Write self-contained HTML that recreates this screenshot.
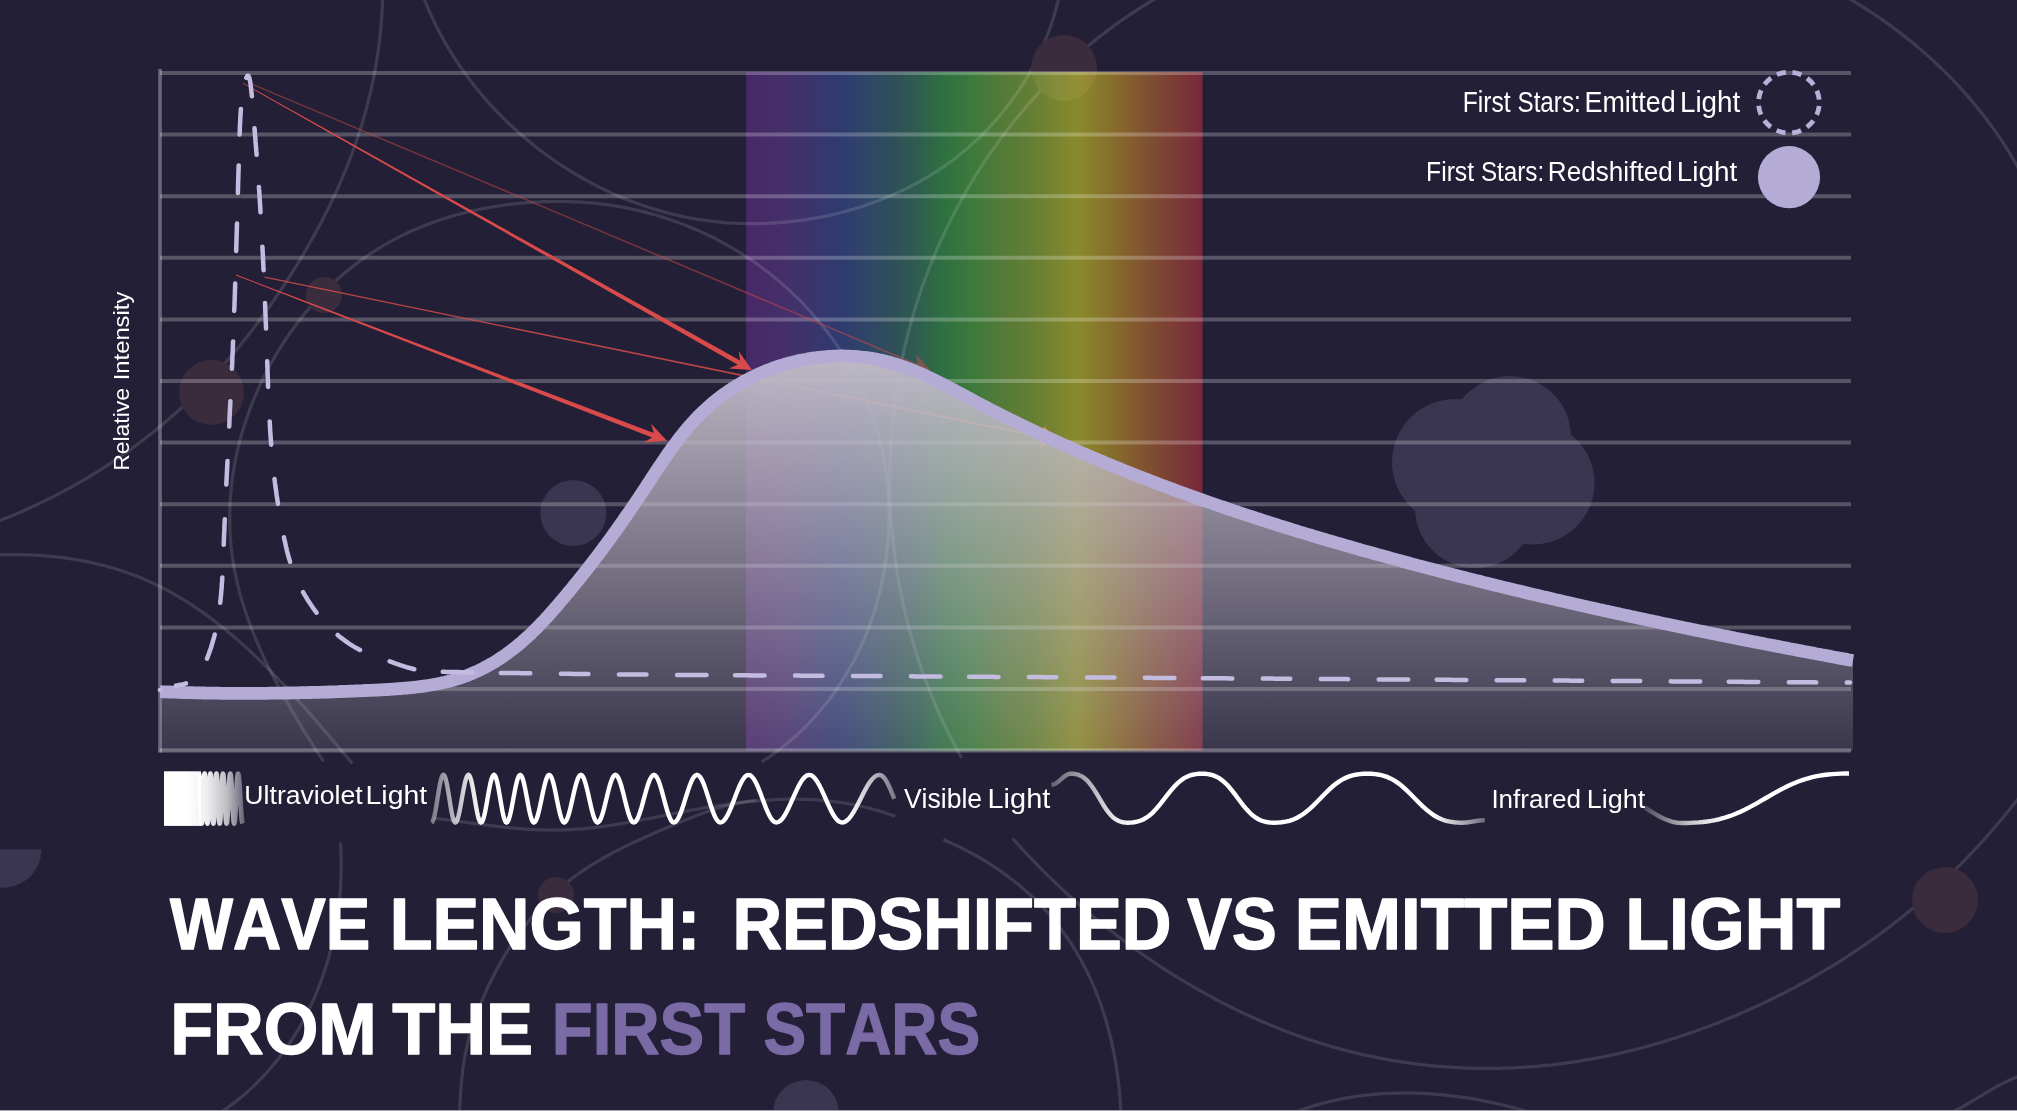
<!DOCTYPE html>
<html><head><meta charset="utf-8"><style>
html,body{margin:0;padding:0;background:#231f37;}
body{width:2017px;height:1111px;overflow:hidden;position:relative;}
svg{position:absolute;left:0;top:0;display:block;will-change:transform;}
text{font-family:"Liberation Sans",sans-serif;font-kerning:none;}
</style></head><body>
<svg width="2017" height="1111" viewBox="0 0 2017 1111">
<defs>
<linearGradient id="spec" x1="746" y1="0" x2="1202.5" y2="0" gradientUnits="userSpaceOnUse">
<stop offset="0.000" stop-color="#472866"/>
<stop offset="0.090" stop-color="#44306a"/>
<stop offset="0.204" stop-color="#2f3a70"/>
<stop offset="0.272" stop-color="#2f4766"/>
<stop offset="0.326" stop-color="#2e5058"/>
<stop offset="0.379" stop-color="#2e5e50"/>
<stop offset="0.432" stop-color="#2e7040"/>
<stop offset="0.502" stop-color="#3e7a3c"/>
<stop offset="0.556" stop-color="#527a38"/>
<stop offset="0.624" stop-color="#647e34"/>
<stop offset="0.727" stop-color="#8a8a2c"/>
<stop offset="0.815" stop-color="#86682c"/>
<stop offset="0.896" stop-color="#7e4a32"/>
<stop offset="1.000" stop-color="#78283a"/>
</linearGradient>
<linearGradient id="ga4" x1="264" y1="277" x2="1058" y2="440" gradientUnits="userSpaceOnUse">
<stop offset="0" stop-color="#d84b4a"/>
<stop offset="0.6" stop-color="#d84b4a"/>
<stop offset="1" stop-color="#e8a040"/>
</linearGradient>
<linearGradient id="fillg" x1="0" y1="350" x2="0" y2="750" gradientUnits="userSpaceOnUse">
<stop offset="0" stop-color="#bfbac6" stop-opacity="1"/>
<stop offset="1" stop-color="#bfbac6" stop-opacity="0.15"/>
</linearGradient>
<linearGradient id="gw1" x1="431" y1="0" x2="895" y2="0" gradientUnits="userSpaceOnUse">
<stop offset="0" stop-color="#fff" stop-opacity="0.4"/>
<stop offset="0.09" stop-color="#fff" stop-opacity="0.9"/>
<stop offset="0.12" stop-color="#fff" stop-opacity="1"/>
<stop offset="0.9" stop-color="#fff" stop-opacity="1"/>
<stop offset="1" stop-color="#fff" stop-opacity="0.4"/>
</linearGradient>
<linearGradient id="guv" x1="164" y1="0" x2="243" y2="0" gradientUnits="userSpaceOnUse">
<stop offset="0" stop-color="#fff" stop-opacity="1"/>
<stop offset="0.3" stop-color="#fff" stop-opacity="1"/>
<stop offset="0.55" stop-color="#fff" stop-opacity="0.92"/>
<stop offset="0.8" stop-color="#fff" stop-opacity="0.7"/>
<stop offset="1" stop-color="#fff" stop-opacity="0.35"/>
</linearGradient>
<linearGradient id="gw2" x1="1051" y1="0" x2="1485" y2="0" gradientUnits="userSpaceOnUse">
<stop offset="0" stop-color="#fff" stop-opacity="0.3"/>
<stop offset="0.15" stop-color="#fff" stop-opacity="0.9"/>
<stop offset="0.2" stop-color="#fff" stop-opacity="1"/>
<stop offset="0.88" stop-color="#fff" stop-opacity="1"/>
<stop offset="1" stop-color="#fff" stop-opacity="0.35"/>
</linearGradient>
<linearGradient id="gw3" x1="1645" y1="0" x2="1849" y2="0" gradientUnits="userSpaceOnUse">
<stop offset="0" stop-color="#fff" stop-opacity="0.2"/>
<stop offset="0.25" stop-color="#fff" stop-opacity="0.8"/>
<stop offset="0.4" stop-color="#fff" stop-opacity="1"/>
<stop offset="1" stop-color="#fff" stop-opacity="1"/>
</linearGradient>
</defs>
<rect width="2017" height="1111" fill="#231f37"/>
<!-- spectrum -->
<rect x="746" y="72" width="456.5" height="678.6" fill="url(#spec)"/>
<g id="deco" fill="none" stroke="#fff" stroke-opacity="0.125" stroke-width="3.2">
<path d="M420.4,-11.7 L421.3,-8.9 L422.3,-6.1 L423.4,-3.4 L424.4,-0.6 L425.5,2.1 L426.6,4.9 L427.8,7.6 L428.9,10.3 L430.1,13.0 L431.3,15.7 L432.6,18.4 L433.8,21.1 L435.1,23.8 L436.4,26.4 L437.8,29.1 L439.2,31.7 L440.5,34.3 L442.0,36.9 L443.4,39.5 L444.8,42.1 L446.3,44.7 L447.8,47.2 L449.4,49.8 L450.9,52.3 L452.5,54.9 L454.1,57.4 L455.7,59.9 L457.4,62.4 L459.0,64.8 L460.7,67.3 L462.4,69.8 L464.2,72.2 L465.9,74.6 L467.7,77.0 L469.5,79.4 L471.3,81.8 L473.1,84.2 L475.0,86.5 L476.9,88.9 L478.8,91.2 L480.7,93.5 L482.6,95.8 L484.6,98.1 L486.5,100.3 L488.5,102.6 L490.6,104.8 L492.6,107.0 L494.6,109.2 L496.7,111.4 L498.8,113.6 L500.9,115.7 L503.0,117.8 L505.2,120.0 L507.3,122.1 L509.5,124.1 L511.7,126.2 L513.9,128.2 L516.2,130.3 L518.4,132.3 L520.7,134.3 L522.9,136.3 L525.2,138.2 L527.6,140.2 L529.9,142.1 L532.2,144.0 L534.6,145.9 L537.0,147.8 L539.3,149.6 L541.8,151.4 L544.2,153.2 L546.6,155.0 L549.1,156.8 L551.5,158.6 L554.0,160.3 L556.5,162.0 L559.0,163.7 L561.5,165.4 L564.0,167.0 L566.6,168.6 L569.2,170.3 L571.7,171.8 L574.3,173.4 L576.9,175.0 L579.5,176.5 L582.1,178.0 L584.8,179.5 L587.4,180.9 L590.1,182.4 L592.7,183.8 L595.4,185.2 L598.1,186.6 L600.8,187.9 L603.5,189.2 L606.2,190.5 L609.0,191.8 L611.7,193.1 L614.5,194.3 L617.2,195.5 L620.0,196.7 L622.8,197.9 L625.6,199.0 L628.4,200.1 L631.2,201.2 L634.0,202.3 L636.9,203.3 L639.7,204.3 L642.5,205.3 L645.4,206.3 L648.3,207.3 L651.1,208.2 L654.0,209.1 L656.9,209.9 L659.8,210.8 L662.7,211.6 L665.6,212.4 L668.5,213.1 L671.4,213.9 L674.3,214.6 L677.3,215.3 L680.2,215.9 L683.1,216.6 L686.1,217.2 L689.0,217.8 L692.0,218.3 L695.0,218.8 L697.9,219.3 L700.9,219.8 L703.9,220.2 L706.9,220.7 L709.9,221.0 L712.9,221.4 L715.8,221.7 L718.8,222.0 L721.8,222.3 L724.8,222.6 L727.8,222.8 L730.8,223.0 L733.9,223.2 L736.9,223.3 L739.9,223.4 L742.9,223.5 L745.9,223.6 L748.9,223.7 L751.9,223.7 L754.9,223.7 L758.0,223.6 L761.0,223.6 L764.0,223.5 L767.0,223.4 L770.0,223.2 L773.0,223.1 L776.0,222.9 L779.0,222.7 L782.0,222.4 L785.0,222.2 L788.0,221.9 L791.0,221.6 L794.0,221.2 L797.0,220.9 L800.0,220.5 L803.0,220.1 L805.9,219.6 L808.9,219.2 L811.9,218.7 L814.8,218.2 L817.8,217.6 L820.7,217.1 L823.7,216.5 L826.6,215.9 L829.6,215.2 L832.5,214.6 L835.4,213.9 L838.3,213.2 L841.2,212.5 L844.1,211.7 L847.0,210.9 L849.9,210.1 L852.8,209.3 L855.6,208.4 L858.5,207.6 L861.4,206.7 L864.2,205.7 L867.0,204.8 L869.8,203.8 L872.7,202.8 L875.5,201.8 L878.3,200.7 L881.0,199.7 L883.8,198.6 L886.6,197.4 L889.3,196.3 L892.0,195.1 L894.8,193.9 L897.5,192.7 L900.2,191.4 L902.9,190.2 L905.5,188.9 L908.2,187.5 L910.8,186.2 L913.5,184.8 L916.1,183.4 L918.7,182.0 L921.3,180.6 L923.9,179.1 L926.4,177.6 L929.0,176.1 L931.5,174.5 L934.0,172.9 L936.5,171.3 L939.0,169.7 L941.5,168.1 L943.9,166.4 L946.3,164.7 L948.8,163.0 L951.2,161.2 L953.5,159.5 L955.9,157.7 L958.2,155.8 L960.6,154.0 L962.9,152.1 L965.2,150.2 L967.4,148.3 L969.7,146.3 L971.9,144.4 L974.1,142.4 L976.3,140.3 L978.5,138.3 L980.6,136.2 L982.8,134.1 L984.9,132.0 L987.0,129.9 L989.0,127.7 L991.1,125.5 L993.1,123.3 L995.1,121.1 L997.1,118.8 L999.0,116.5 L1000.9,114.2 L1002.8,111.9 L1004.7,109.6 L1006.6,107.2 L1008.4,104.8 L1010.2,102.4 L1012.0,100.0 L1013.8,97.6 L1015.5,95.1 L1017.2,92.7 L1018.9,90.2 L1020.6,87.6 L1022.2,85.1 L1023.8,82.6 L1025.4,80.0 L1026.9,77.4 L1028.5,74.8 L1029.9,72.2 L1031.4,69.5 L1032.9,66.9 L1034.3,64.2 L1035.7,61.5 L1037.0,58.8 L1038.3,56.1 L1039.6,53.4 L1040.9,50.6 L1042.2,47.9 L1043.4,45.1 L1044.5,42.3 L1045.7,39.5 L1046.8,36.7 L1047.9,33.9 L1049.0,31.0 L1050.0,28.1 L1051.0,25.3 L1051.9,22.4 L1052.9,19.5 L1053.8,16.6 L1054.6,13.7 L1055.5,10.7 L1056.3,7.8 L1057.0,4.8 L1057.8,1.9 L1058.5,-1.1 L1059.1,-4.1 L1059.8,-7.1 L1060.4,-10.1 L1060.8,-12.4"/>
<path d="M382.8,-9.9 L382.8,-6.9 L382.7,-3.9 L382.6,-0.9 L382.5,2.1 L382.4,5.0 L382.3,8.0 L382.1,11.0 L381.9,14.0 L381.7,17.0 L381.5,19.9 L381.3,22.9 L381.0,25.9 L380.8,28.8 L380.5,31.8 L380.2,34.8 L379.8,37.7 L379.5,40.7 L379.1,43.7 L378.8,46.6 L378.3,49.6 L377.9,52.5 L377.5,55.5 L377.0,58.4 L376.6,61.3 L376.1,64.3 L375.6,67.2 L375.0,70.2 L374.5,73.1 L373.9,76.0 L373.3,78.9 L372.7,81.9 L372.1,84.8 L371.5,87.7 L370.8,90.6 L370.2,93.5 L369.5,96.4 L368.8,99.3 L368.0,102.2 L367.3,105.1 L366.5,108.0 L365.7,110.9 L365.0,113.7 L364.1,116.6 L363.3,119.5 L362.5,122.4 L361.6,125.2 L360.7,128.1 L359.8,130.9 L358.9,133.8 L358.0,136.6 L357.0,139.5 L356.0,142.3 L355.0,145.2 L354.0,148.0 L353.0,150.8 L352.0,153.6 L350.9,156.5 L349.9,159.3 L348.8,162.1 L347.7,164.9 L346.5,167.7 L345.4,170.5 L344.3,173.2 L343.1,176.0 L341.9,178.8 L340.7,181.6 L339.5,184.3 L338.3,187.1 L337.0,189.9 L335.8,192.6 L334.5,195.3 L333.2,198.1 L331.9,200.8 L330.6,203.5 L329.3,206.3 L327.9,209.0 L326.6,211.7 L325.2,214.4 L323.9,217.1 L322.5,219.8 L321.1,222.5 L319.6,225.1 L318.2,227.8 L316.8,230.5 L315.3,233.1 L313.9,235.8 L312.4,238.4 L310.9,241.1 L309.4,243.7 L307.9,246.3 L306.4,249.0 L304.9,251.6 L303.3,254.2 L301.8,256.8 L300.2,259.4 L298.7,261.9 L297.1,264.5 L295.5,267.1 L293.9,269.7 L292.3,272.2 L290.7,274.8 L289.1,277.3 L287.4,279.8 L285.8,282.4 L284.2,284.9 L282.5,287.4 L280.8,289.9 L279.2,292.4 L277.5,294.9 L275.8,297.4 L274.1,299.8 L272.4,302.3 L270.7,304.8 L269.0,307.2 L267.2,309.6 L265.5,312.1 L263.8,314.5 L262.0,316.9 L260.2,319.3 L258.5,321.7 L256.7,324.1 L254.9,326.5 L253.1,328.9 L251.3,331.2 L249.5,333.6 L247.6,335.9 L245.8,338.3 L243.9,340.6 L242.1,342.9 L240.2,345.2 L238.3,347.5 L236.4,349.8 L234.5,352.1 L232.6,354.4 L230.7,356.6 L228.8,358.9 L226.8,361.1 L224.9,363.4 L222.9,365.6 L220.9,367.8 L219.0,370.0 L217.0,372.2 L215.0,374.4 L212.9,376.6 L210.9,378.7 L208.9,380.9 L206.8,383.0 L204.8,385.2 L202.7,387.3 L200.6,389.4 L198.5,391.5 L196.4,393.6 L194.3,395.7 L192.2,397.8 L190.0,399.8 L187.9,401.9 L185.7,403.9 L183.5,406.0 L181.3,408.0 L179.1,410.0 L176.9,412.0 L174.7,414.0 L172.4,416.0 L170.2,417.9 L167.9,419.9 L165.6,421.8 L163.4,423.8 L161.1,425.7 L158.7,427.6 L156.4,429.5 L154.1,431.4 L151.7,433.3 L149.4,435.1 L147.0,437.0 L144.7,438.8 L142.3,440.6 L139.9,442.5 L137.5,444.3 L135.1,446.1 L132.6,447.8 L130.2,449.6 L127.7,451.4 L125.3,453.1 L122.8,454.8 L120.4,456.6 L117.9,458.3 L115.4,460.0 L112.9,461.6 L110.4,463.3 L107.8,465.0 L105.3,466.6 L102.8,468.2 L100.2,469.9 L97.7,471.5 L95.1,473.1 L92.5,474.6 L90.0,476.2 L87.4,477.8 L84.8,479.3 L82.2,480.8 L79.5,482.4 L76.9,483.9 L74.3,485.3 L71.7,486.8 L69.0,488.3 L66.4,489.7 L63.7,491.2 L61.0,492.6 L58.4,494.0 L55.7,495.4 L53.0,496.8 L50.3,498.1 L47.6,499.5 L44.9,500.8 L42.2,502.1 L39.5,503.4 L36.8,504.7 L34.0,506.0 L31.3,507.3 L28.6,508.5 L25.8,509.8 L23.1,511.0 L20.3,512.2 L17.5,513.4 L14.8,514.6 L12.0,515.7 L9.2,516.9 L6.4,518.0 L3.6,519.1 L0.8,520.2 L-1.9,521.3 L-4.8,522.4 L-7.6,523.5 L-10.4,524.5 L-12.0,525.1"/>
<path d="M323.3,761.4 L321.8,759.0 L320.3,756.7 L318.7,754.3 L317.2,751.9 L315.7,749.5 L314.1,747.1 L312.6,744.6 L311.1,742.2 L309.5,739.7 L308.0,737.2 L306.4,734.8 L304.9,732.3 L303.3,729.8 L301.8,727.2 L300.3,724.7 L298.7,722.2 L297.2,719.6 L295.7,717.0 L294.2,714.5 L292.6,711.9 L291.1,709.3 L289.6,706.7 L288.1,704.0 L286.6,701.4 L285.1,698.8 L283.7,696.1 L282.2,693.4 L280.7,690.8 L279.3,688.1 L277.8,685.4 L276.4,682.7 L275.0,680.0 L273.6,677.3 L272.2,674.5 L270.8,671.8 L269.5,669.0 L268.1,666.3 L266.8,663.5 L265.4,660.8 L264.1,658.0 L262.8,655.2 L261.6,652.4 L260.3,649.6 L259.1,646.8 L257.9,644.0 L256.7,641.2 L255.5,638.3 L254.3,635.5 L253.2,632.7 L252.0,629.8 L250.9,627.0 L249.9,624.1 L248.8,621.3 L247.8,618.4 L246.8,615.5 L245.8,612.6 L244.8,609.7 L243.9,606.9 L243.0,604.0 L242.1,601.1 L241.3,598.2 L240.4,595.3 L239.6,592.4 L238.9,589.4 L238.1,586.5 L237.4,583.6 L236.7,580.7 L236.1,577.7 L235.5,574.8 L234.9,571.9 L234.3,568.9 L233.8,566.0 L233.3,563.1 L232.8,560.1 L232.4,557.2 L232.0,554.2 L231.7,551.3 L231.3,548.3 L231.0,545.4 L230.8,542.4 L230.5,539.5 L230.3,536.5 L230.1,533.6 L230.0,530.6 L229.9,527.7 L229.8,524.7 L229.7,521.7 L229.7,518.8 L229.7,515.8 L229.7,512.9 L229.8,509.9 L229.9,507.0 L230.0,504.0 L230.2,501.1 L230.4,498.1 L230.6,495.2 L230.8,492.2 L231.1,489.3 L231.4,486.3 L231.7,483.4 L232.1,480.5 L232.5,477.5 L232.9,474.6 L233.4,471.7 L233.8,468.7 L234.3,465.8 L234.9,462.9 L235.4,460.0 L236.0,457.0 L236.6,454.1 L237.3,451.2 L238.0,448.3 L238.7,445.4 L239.4,442.5 L240.1,439.6 L240.9,436.8 L241.7,433.9 L242.6,431.0 L243.4,428.1 L244.3,425.3 L245.3,422.4 L246.2,419.6 L247.2,416.7 L248.2,413.9 L249.2,411.1 L250.2,408.2 L251.3,405.4 L252.4,402.6 L253.6,399.8 L254.7,397.0 L255.9,394.2 L257.1,391.5 L258.3,388.7 L259.6,386.0 L260.9,383.2 L262.2,380.5 L263.5,377.8 L264.8,375.1 L266.2,372.4 L267.6,369.7 L269.0,367.0 L270.5,364.3 L272.0,361.7 L273.5,359.0 L275.0,356.4 L276.5,353.8 L278.1,351.2 L279.7,348.6 L281.3,346.1 L282.9,343.5 L284.6,341.0 L286.3,338.5 L288.0,335.9 L289.7,333.5 L291.5,331.0 L293.2,328.5 L295.0,326.1 L296.8,323.7 L298.7,321.3 L300.5,318.9 L302.4,316.5 L304.3,314.1 L306.2,311.8 L308.2,309.5 L310.1,307.2 L312.1,304.9 L314.1,302.7 L316.1,300.4 L318.2,298.2 L320.2,296.0 L322.3,293.8 L324.4,291.7 L326.6,289.6 L328.7,287.5 L330.9,285.4 L333.0,283.3 L335.2,281.3 L337.5,279.3 L339.7,277.3 L342.0,275.3 L344.2,273.3 L346.5,271.4 L348.8,269.5 L351.2,267.7 L353.5,265.8 L355.9,264.0 L358.3,262.2 L360.7,260.4 L363.1,258.7 L365.5,257.0 L368.0,255.3 L370.5,253.6 L373.0,252.0 L375.5,250.4 L378.0,248.8 L380.5,247.3 L383.1,245.7 L385.6,244.3 L388.2,242.8 L390.8,241.4 L393.4,239.9 L396.1,238.6 L398.7,237.2 L401.4,235.9 L404.0,234.6 L406.7,233.3 L409.4,232.0 L412.1,230.8 L414.9,229.6 L417.6,228.5 L420.3,227.3 L423.1,226.2 L425.9,225.1 L428.7,224.0 L431.5,223.0 L434.3,222.0 L437.1,221.0 L439.9,220.0 L442.7,219.1 L445.6,218.2 L448.4,217.3 L451.3,216.4 L454.2,215.6 L457.1,214.8 L460.0,214.0 L462.9,213.2 L465.8,212.5 L468.7,211.8 L471.6,211.1 L474.5,210.4 L477.5,209.8 L480.4,209.2 L483.4,208.6 L486.3,208.0 L489.3,207.5 L492.2,207.0 L495.2,206.5 L498.2,206.0 L501.2,205.6 L504.2,205.1 L507.1,204.7 L510.1,204.4 L513.1,204.0 L516.1,203.7 L519.1,203.4 L522.1,203.1 L525.2,202.8 L528.2,202.6 L531.2,202.4 L534.2,202.2 L537.2,202.0 L540.2,201.9 L543.3,201.7 L546.3,201.6 L549.3,201.6 L552.3,201.5 L555.3,201.5 L558.4,201.5 L561.4,201.5 L564.4,201.5 L567.4,201.6 L570.4,201.7 L573.5,201.8 L576.5,201.9 L579.5,202.1 L582.5,202.2 L585.5,202.5 L588.5,202.7 L591.5,202.9 L594.5,203.2 L597.5,203.5 L600.5,203.9 L603.5,204.2 L606.5,204.6 L609.5,205.0 L612.5,205.5 L615.5,205.9 L618.4,206.4 L621.4,207.0 L624.4,207.5 L627.3,208.1 L630.3,208.7 L633.2,209.3 L636.2,210.0 L639.1,210.7 L642.0,211.4 L644.9,212.1 L647.9,212.9 L650.8,213.6 L653.7,214.5 L656.6,215.3 L659.5,216.2 L662.3,217.0 L665.2,218.0 L668.1,218.9 L670.9,219.9 L673.8,220.9 L676.6,221.9 L679.4,222.9 L682.2,224.0 L685.1,225.1 L687.9,226.2 L690.6,227.3 L693.4,228.5 L696.2,229.7 L698.9,230.9 L701.7,232.1 L704.4,233.4 L707.2,234.7 L709.9,236.0 L712.6,237.3 L715.3,238.7 L717.9,240.1 L720.6,241.5 L723.2,242.9 L725.9,244.4 L728.5,245.9 L731.1,247.4 L733.7,248.9 L736.3,250.4 L738.9,252.0 L741.4,253.6 L744.0,255.2 L746.5,256.9 L749.0,258.5 L751.5,260.2 L754.0,261.9 L756.4,263.6 L758.9,265.4 L761.3,267.2 L763.7,269.0 L766.1,270.8 L768.5,272.6 L770.9,274.5 L773.2,276.4 L775.6,278.3 L777.9,280.2 L780.2,282.1 L782.5,284.1 L784.7,286.1 L787.0,288.1 L789.2,290.1 L791.4,292.2 L793.6,294.3 L795.7,296.3 L797.9,298.4 L800.0,300.6 L802.1,302.7 L804.2,304.9 L806.3,307.1 L808.3,309.3 L810.3,311.5 L812.4,313.7 L814.3,316.0 L816.3,318.3 L818.2,320.6 L820.1,322.9 L822.0,325.2 L823.9,327.5 L825.8,329.9 L827.6,332.3 L829.4,334.7 L831.2,337.1 L832.9,339.5 L834.7,341.9 L836.4,344.4 L838.0,346.9 L839.7,349.4 L841.3,351.9 L843.0,354.4 L844.5,356.9 L846.1,359.5 L847.6,362.0 L849.1,364.6 L850.6,367.2 L852.1,369.8 L853.5,372.5 L854.9,375.1 L856.3,377.7 L857.6,380.4 L858.9,383.1 L860.2,385.8 L861.5,388.5 L862.7,391.2 L864.0,393.9 L865.1,396.7 L866.3,399.4 L867.4,402.2 L868.5,404.9 L869.6,407.7 L870.6,410.5 L871.6,413.3 L872.6,416.2 L873.5,419.0 L874.5,421.8 L875.4,424.7 L876.2,427.5 L877.1,430.4 L877.9,433.3 L878.6,436.2 L879.4,439.1 L880.1,442.0 L880.8,444.9 L881.5,447.8 L882.1,450.7 L882.7,453.6 L883.3,456.6 L883.9,459.5 L884.4,462.5 L884.9,465.4 L885.3,468.4 L885.8,471.4 L886.2,474.3 L886.6,477.3 L886.9,480.3 L887.2,483.3 L887.5,486.2 L887.8,489.2 L888.0,492.2 L888.2,495.2 L888.4,498.2 L888.6,501.2 L888.7,504.2 L888.8,507.2 L888.9,510.2 L888.9,513.2 L888.9,516.2 L888.9,519.2 L888.9,522.2 L888.8,525.2 L888.7,528.2 L888.6,531.2 L888.4,534.2 L888.2,537.2 L888.0,540.2 L887.8,543.2 L887.5,546.2 L887.2,549.2 L886.9,552.2 L886.5,555.2 L886.1,558.1 L885.7,561.1 L885.3,564.1 L884.8,567.0 L884.3,570.0 L883.8,573.0 L883.3,575.9 L882.7,578.9 L882.1,581.8 L881.5,584.7 L880.8,587.7 L880.1,590.6 L879.4,593.5 L878.7,596.4 L877.9,599.3 L877.1,602.2 L876.3,605.1 L875.4,607.9 L874.5,610.8 L873.6,613.7 L872.7,616.5 L871.7,619.4 L870.7,622.2 L869.7,625.0 L868.7,627.8 L867.6,630.6 L866.5,633.4 L865.3,636.2 L864.2,638.9 L863.0,641.7 L861.8,644.4 L860.5,647.1 L859.3,649.8 L858.0,652.5 L856.7,655.2 L855.3,657.9 L853.9,660.5 L852.5,663.2 L851.1,665.8 L849.6,668.4 L848.1,671.0 L846.6,673.6 L845.1,676.1 L843.5,678.7 L841.9,681.2 L840.3,683.7 L838.6,686.2 L837.0,688.7 L835.3,691.2 L833.5,693.6 L831.8,696.1 L830.0,698.5 L828.2,700.9 L826.3,703.2 L824.4,705.6 L822.5,707.9 L820.6,710.2 L818.7,712.5 L816.7,714.8 L814.7,717.0 L812.7,719.2 L810.6,721.5 L808.5,723.6 L806.4,725.8 L804.3,727.9 L802.1,730.1 L799.9,732.2 L797.7,734.2 L795.4,736.3 L793.1,738.3 L790.8,740.3 L788.5,742.3 L786.2,744.2 L783.8,746.1 L781.4,748.0 L778.9,749.9 L776.5,751.8 L774.0,753.6 L771.5,755.4 L768.9,757.2 L766.3,758.9 L763.7,760.6 L761.8,761.8"/>
<path d="M433.5,818.2 L436.5,818.5 L439.5,818.9 L442.5,819.3 L445.5,819.6 L448.5,820.0 L451.5,820.4 L454.5,820.8 L457.5,821.2 L460.5,821.6 L463.5,822.0 L466.4,822.4 L469.4,822.8 L472.4,823.2 L475.4,823.6 L478.4,824.0 L481.4,824.4 L484.4,824.8 L487.3,825.2 L490.3,825.6 L493.3,825.9 L496.3,826.3 L499.3,826.6 L502.3,827.0 L505.2,827.3 L508.2,827.6 L511.2,827.9 L514.2,828.2 L517.2,828.5 L520.1,828.7 L523.1,829.0 L526.1,829.2 L529.1,829.4 L532.0,829.5 L535.0,829.7 L538.0,829.8 L541.0,829.9 L543.9,830.0 L546.9,830.0 L549.9,830.1 L552.9,830.1 L555.8,830.1 L558.8,830.0 L561.8,830.0 L564.7,829.9 L567.7,829.7 L570.7,829.6 L573.7,829.4 L576.6,829.2 L579.6,829.0 L582.6,828.8 L585.5,828.5 L588.5,828.2 L591.5,827.9 L594.4,827.5 L597.4,827.2 L600.4,826.8 L603.3,826.4 L606.3,826.0 L609.3,825.5 L612.2,825.1 L615.2,824.6 L618.2,824.1 L621.1,823.6 L624.1,823.1 L627.1,822.6 L630.0,822.0 L633.0,821.5 L636.0,820.9 L638.9,820.4 L641.9,819.8 L644.9,819.2 L647.8,818.6 L650.8,818.1 L653.7,817.5 L656.7,816.9 L659.7,816.3 L662.6,815.7 L665.6,815.1 L668.6,814.5 L671.5,814.0 L674.5,813.4 L677.4,812.8 L680.4,812.2 L683.4,811.7 L686.3,811.1 L689.3,810.6 L692.3,810.0 L695.2,809.5 L698.2,809.0 L701.1,808.4 L704.1,807.9 L707.1,807.4 L710.0,806.9 L713.0,806.5 L715.9,806.0 L718.9,805.5 L721.9,805.1 L724.8,804.7 L727.8,804.2 L730.8,803.8 L733.7,803.4 L736.7,803.1 L739.6,802.7 L742.6,802.3 L745.6,802.0 L748.5,801.7 L751.5,801.4 L754.5,801.1 L757.4,800.8 L760.4,800.6 L763.3,800.4 L766.3,800.2 L769.3,800.0 L772.2,799.8 L775.2,799.6 L778.2,799.5 L781.1,799.4 L784.1,799.3 L787.1,799.2 L790.0,799.2 L793.0,799.2 L796.0,799.2 L798.9,799.2 L801.9,799.3 L804.8,799.4 L807.8,799.5 L810.8,799.6 L813.7,799.7 L816.7,799.9 L819.7,800.1 L822.6,800.4 L825.6,800.7 L828.6,801.0 L831.6,801.3 L834.5,801.6 L837.5,802.0 L840.5,802.4 L843.4,802.9 L846.4,803.4 L849.4,803.9 L852.3,804.4 L855.3,805.0 L858.3,805.6 L861.3,806.3 L864.2,807.0 L867.2,807.7 L870.2,808.4 L873.1,809.2 L876.1,810.1 L879.1,810.9 L882.1,811.8 L885.0,812.8 L888.0,813.7 L891.0,814.8 L894.0,815.8 L895.3,816.3"/>
<path d="M459.4,1115.2 L459.6,1112.3 L459.7,1109.3 L459.8,1106.4 L460.0,1103.5 L460.2,1100.6 L460.3,1097.7 L460.5,1094.7 L460.7,1091.8 L460.9,1088.9 L461.1,1085.9 L461.4,1083.0 L461.6,1080.1 L461.9,1077.1 L462.3,1074.2 L462.6,1071.2 L463.0,1068.3 L463.4,1065.4 L463.8,1062.4 L464.3,1059.5 L464.8,1056.6 L465.4,1053.6 L466.0,1050.7 L466.6,1047.8 L467.3,1044.8 L468.0,1041.9 L468.7,1039.0 L469.5,1036.1 L470.3,1033.2 L471.2,1030.3 L472.1,1027.4 L473.0,1024.5 L473.9,1021.6 L474.9,1018.8 L476.0,1015.9 L477.0,1013.0 L478.1,1010.2 L479.2,1007.3 L480.3,1004.5 L481.5,1001.7 L482.7,998.9 L483.9,996.1 L485.1,993.3 L486.4,990.5 L487.6,987.7 L488.9,985.0 L490.3,982.2 L491.6,979.5 L493.0,976.7 L494.4,974.0 L495.8,971.3 L497.2,968.7 L498.6,966.0 L500.1,963.3 L501.6,960.7 L503.1,958.1 L504.7,955.5 L506.2,952.9 L507.8,950.3 L509.4,947.8 L511.1,945.2 L512.7,942.7 L514.4,940.2 L516.1,937.7 L517.8,935.3 L519.6,932.8 L521.4,930.4 L523.2,928.0 L525.0,925.6 L526.8,923.2 L528.7,920.9 L530.6,918.6 L532.5,916.3 L534.4,914.0 L536.4,911.8 L538.3,909.6 L540.4,907.4 L542.4,905.2 L544.4,903.0 L546.5,900.9 L548.6,898.8 L550.7,896.7 L552.9,894.7 L555.1,892.6 L557.3,890.7 L559.5,888.7 L561.7,886.7 L564.0,884.8 L566.3,882.9 L568.6,881.1 L571.0,879.3 L573.3,877.5 L575.7,875.7 L578.2,874.0 L580.6,872.3 L583.1,870.6 L585.5,868.9 L588.0,867.3 L590.6,865.7 L593.1,864.1 L595.7,862.5 L598.2,861.0 L600.8,859.5 L603.4,858.0 L606.1,856.5 L608.7,855.1 L611.3,853.6 L614.0,852.2 L616.7,850.8 L619.4,849.4 L622.1,848.1 L624.8,846.7 L627.5,845.4 L630.2,844.1 L632.9,842.8 L635.7,841.5 L638.4,840.2 L641.2,839.0 L643.9,837.7 L646.7,836.5 L649.5,835.2 L652.2,834.0 L655.0,832.8 L657.8,831.6 L660.5,830.4 L663.3,829.2 L666.1,828.0 L668.8,826.9 L671.6,825.7 L674.4,824.5 L677.1,823.4 L679.9,822.2 L682.6,821.1 L685.4,820.0 L688.2,818.9 L690.9,817.8 L693.7,816.7 L696.5,815.6 L699.3,814.6 L702.1,813.5 L704.9,812.6 L707.7,811.6 L710.5,810.6 L713.3,809.7 L716.1,808.8 L719.0,808.0 L721.8,807.1 L724.7,806.3 L727.6,805.6 L730.5,804.8 L733.4,804.1 L736.3,803.5 L739.2,802.9 L742.2,802.3 L745.2,801.8 L748.2,801.3 L751.2,800.9 L754.3,800.5 L756.2,800.3"/>
<path d="M943.3,839.5 L946.0,840.7 L948.8,842.0 L951.6,843.2 L954.3,844.5 L957.1,845.8 L959.8,847.1 L962.5,848.5 L965.2,849.9 L967.9,851.3 L970.6,852.7 L973.3,854.2 L975.9,855.7 L978.5,857.2 L981.2,858.7 L983.8,860.2 L986.4,861.8 L988.9,863.4 L991.5,865.0 L994.0,866.7 L996.6,868.4 L999.1,870.1 L1001.5,871.8 L1004.0,873.6 L1006.5,875.3 L1008.9,877.1 L1011.3,878.9 L1013.7,880.8 L1016.0,882.7 L1018.4,884.6 L1020.7,886.5 L1023.0,888.4 L1025.2,890.4 L1027.5,892.4 L1029.7,894.4 L1031.9,896.4 L1034.1,898.5 L1036.2,900.6 L1038.3,902.7 L1040.4,904.8 L1042.5,907.0 L1044.5,909.1 L1046.5,911.3 L1048.5,913.6 L1050.4,915.8 L1052.4,918.1 L1054.3,920.4 L1056.1,922.7 L1058.0,925.0 L1059.8,927.4 L1061.5,929.7 L1063.3,932.1 L1065.0,934.6 L1066.7,937.0 L1068.4,939.4 L1070.0,941.9 L1071.7,944.4 L1073.2,946.9 L1074.8,949.4 L1076.3,952.0 L1077.8,954.6 L1079.3,957.1 L1080.8,959.7 L1082.2,962.4 L1083.6,965.0 L1085.0,967.6 L1086.3,970.3 L1087.6,973.0 L1088.9,975.7 L1090.2,978.4 L1091.4,981.1 L1092.6,983.8 L1093.8,986.6 L1095.0,989.3 L1096.1,992.1 L1097.2,994.9 L1098.3,997.7 L1099.3,1000.5 L1100.4,1003.3 L1101.4,1006.2 L1102.3,1009.0 L1103.3,1011.9 L1104.2,1014.7 L1105.1,1017.6 L1106.0,1020.5 L1106.8,1023.4 L1107.6,1026.3 L1108.4,1029.2 L1109.2,1032.1 L1109.9,1035.1 L1110.6,1038.0 L1111.3,1040.9 L1112.0,1043.9 L1112.7,1046.8 L1113.3,1049.8 L1113.9,1052.8 L1114.4,1055.7 L1115.0,1058.7 L1115.5,1061.7 L1116.0,1064.7 L1116.5,1067.7 L1116.9,1070.7 L1117.4,1073.7 L1117.8,1076.7 L1118.1,1079.7 L1118.5,1082.7 L1118.8,1085.7 L1119.2,1088.7 L1119.4,1091.7 L1119.7,1094.7 L1120.0,1097.6 L1120.2,1100.6 L1120.4,1103.6 L1120.6,1106.6 L1120.7,1109.6 L1120.9,1112.6 L1121.0,1115.1"/>
<path d="M1170.7,-9.9 L1168.0,-8.4 L1165.3,-7.0 L1162.6,-5.5 L1160.0,-4.0 L1157.3,-2.4 L1154.7,-0.9 L1152.1,0.6 L1149.5,2.2 L1146.9,3.8 L1144.3,5.4 L1141.7,7.0 L1139.2,8.6 L1136.6,10.3 L1134.1,11.9 L1131.5,13.6 L1129.0,15.3 L1126.5,17.0 L1124.0,18.7 L1121.5,20.4 L1119.0,22.2 L1116.6,23.9 L1114.1,25.7 L1111.7,27.5 L1109.3,29.3 L1106.8,31.1 L1104.4,32.9 L1102.1,34.8 L1099.7,36.6 L1097.3,38.5 L1094.9,40.4 L1092.6,42.3 L1090.3,44.2 L1087.9,46.1 L1085.6,48.0 L1083.3,50.0 L1081.1,51.9 L1078.8,53.9 L1076.5,55.9 L1074.3,57.9 L1072.0,59.9 L1069.8,61.9 L1067.6,63.9 L1065.4,66.0 L1063.2,68.0 L1061.0,70.1 L1058.9,72.2 L1056.7,74.3 L1054.6,76.4 L1052.4,78.5 L1050.3,80.6 L1048.2,82.8 L1046.1,84.9 L1044.1,87.1 L1042.0,89.3 L1039.9,91.4 L1037.9,93.6 L1035.9,95.8 L1033.9,98.1 L1031.9,100.3 L1029.9,102.5 L1027.9,104.8 L1025.9,107.1 L1024.0,109.3 L1022.0,111.6 L1020.1,113.9 L1018.2,116.2 L1016.3,118.5 L1014.4,120.9 L1012.6,123.2 L1010.7,125.5 L1008.8,127.9 L1007.0,130.3 L1005.2,132.6 L1003.4,135.0 L1001.6,137.4 L999.8,139.8 L998.0,142.3 L996.3,144.7 L994.5,147.1 L992.8,149.6 L991.1,152.0 L989.4,154.5 L987.7,156.9 L986.0,159.4 L984.4,161.9 L982.7,164.4 L981.1,166.9 L979.5,169.4 L977.9,172.0 L976.3,174.5 L974.7,177.0 L973.1,179.6 L971.6,182.2 L970.0,184.7 L968.5,187.3 L967.0,189.9 L965.5,192.5 L964.0,195.1 L962.5,197.7 L961.1,200.3 L959.6,202.9 L958.2,205.6 L956.8,208.2 L955.4,210.8 L954.0,213.5 L952.6,216.2 L951.3,218.8 L949.9,221.5 L948.6,224.2 L947.3,226.9 L946.0,229.6 L944.7,232.3 L943.4,235.0 L942.2,237.7 L940.9,240.4 L939.7,243.2 L938.5,245.9 L937.3,248.6 L936.1,251.4 L934.9,254.1 L933.8,256.9 L932.6,259.7 L931.5,262.4 L930.4,265.2 L929.3,268.0 L928.2,270.8 L927.1,273.6 L926.1,276.4 L925.0,279.2 L924.0,282.0 L923.0,284.8 L922.0,287.7 L921.0,290.5 L920.0,293.3 L919.1,296.2 L918.2,299.0 L917.2,301.9 L916.3,304.7 L915.4,307.6 L914.6,310.4 L913.7,313.3 L912.9,316.2 L912.0,319.1 L911.2,321.9 L910.4,324.8 L909.6,327.7 L908.9,330.6 L908.1,333.5 L907.4,336.4 L906.6,339.3 L905.9,342.2 L905.2,345.1 L904.6,348.1 L903.9,351.0 L903.2,353.9 L902.6,356.8 L902.0,359.8 L901.4,362.7 L900.8,365.6 L900.2,368.6 L899.7,371.5 L899.1,374.5 L898.6,377.4 L898.1,380.4 L897.6,383.3 L897.1,386.3 L896.7,389.2 L896.2,392.2 L895.8,395.2 L895.3,398.1 L894.9,401.1 L894.6,404.1 L894.2,407.1 L893.8,410.0 L893.5,413.0 L893.1,416.0 L892.8,419.0 L892.5,421.9 L892.2,424.9 L892.0,427.9 L891.7,430.9 L891.5,433.9 L891.3,436.9 L891.1,439.9 L890.9,442.9 L890.7,445.9 L890.5,448.9 L890.4,451.9 L890.3,454.9 L890.1,457.9 L890.0,460.8 L890.0,463.8 L889.9,466.8 L889.8,469.8 L889.8,472.8 L889.8,475.8 L889.8,478.8 L889.8,481.8 L889.8,484.8 L889.8,487.8 L889.9,490.8 L889.9,493.8 L890.0,496.8 L890.1,499.8 L890.2,502.8 L890.4,505.8 L890.5,508.8 L890.7,511.8 L890.8,514.8 L891.0,517.8 L891.2,520.8 L891.5,523.8 L891.7,526.8 L891.9,529.8 L892.2,532.8 L892.5,535.8 L892.8,538.8 L893.1,541.8 L893.4,544.7 L893.8,547.7 L894.1,550.7 L894.5,553.7 L894.9,556.7 L895.3,559.6 L895.7,562.6 L896.2,565.6 L896.6,568.6 L897.1,571.5 L897.6,574.5 L898.1,577.5 L898.6,580.4 L899.1,583.4 L899.6,586.3 L900.2,589.3 L900.8,592.2 L901.4,595.2 L902.0,598.1 L902.6,601.1 L903.2,604.0 L903.9,606.9 L904.6,609.9 L905.2,612.8 L905.9,615.7 L906.6,618.6 L907.4,621.6 L908.1,624.5 L908.9,627.4 L909.6,630.3 L910.4,633.2 L911.2,636.1 L912.1,639.0 L912.9,641.9 L913.8,644.8 L914.6,647.6 L915.5,650.5 L916.4,653.4 L917.3,656.3 L918.2,659.1 L919.2,662.0 L920.1,664.8 L921.1,667.7 L922.1,670.5 L923.1,673.4 L924.1,676.2 L925.2,679.0 L926.2,681.9 L927.3,684.7 L928.4,687.5 L929.5,690.3 L930.6,693.1 L931.7,695.9 L932.9,698.7 L934.0,701.5 L935.2,704.3 L936.4,707.0 L937.6,709.8 L938.8,712.6 L940.1,715.3 L941.3,718.1 L942.6,720.8 L943.9,723.5 L945.2,726.3 L946.5,729.0 L947.8,731.7 L949.2,734.4 L950.5,737.1 L951.9,739.8 L953.3,742.5 L954.7,745.2 L956.1,747.9 L957.6,750.5 L959.0,753.2 L960.5,755.8 L961.7,758.0"/>
<path d="M1012.7,838.5 L1014.6,840.7 L1016.6,842.9 L1018.5,845.0 L1020.5,847.2 L1022.5,849.3 L1024.5,851.5 L1026.5,853.6 L1028.5,855.8 L1030.5,857.9 L1032.6,860.0 L1034.6,862.2 L1036.7,864.3 L1038.7,866.4 L1040.8,868.5 L1042.9,870.6 L1045.0,872.7 L1047.1,874.8 L1049.2,876.9 L1051.3,878.9 L1053.5,881.0 L1055.6,883.0 L1057.8,885.1 L1059.9,887.1 L1062.1,889.2 L1064.3,891.2 L1066.5,893.2 L1068.7,895.2 L1070.9,897.2 L1073.1,899.2 L1075.4,901.2 L1077.6,903.2 L1079.9,905.2 L1082.1,907.2 L1084.4,909.1 L1086.7,911.1 L1089.0,913.0 L1091.2,915.0 L1093.5,916.9 L1095.9,918.8 L1098.2,920.7 L1100.5,922.6 L1102.9,924.5 L1105.2,926.4 L1107.6,928.3 L1109.9,930.1 L1112.3,932.0 L1114.7,933.8 L1117.1,935.7 L1119.5,937.5 L1121.9,939.3 L1124.3,941.1 L1126.7,942.9 L1129.1,944.7 L1131.6,946.5 L1134.0,948.3 L1136.5,950.1 L1138.9,951.8 L1141.4,953.6 L1143.9,955.3 L1146.3,957.0 L1148.8,958.7 L1151.3,960.4 L1153.8,962.1 L1156.4,963.8 L1158.9,965.5 L1161.4,967.1 L1163.9,968.8 L1166.5,970.4 L1169.0,972.1 L1171.6,973.7 L1174.2,975.3 L1176.7,976.9 L1179.3,978.5 L1181.9,980.0 L1184.5,981.6 L1187.1,983.2 L1189.7,984.7 L1192.3,986.2 L1194.9,987.7 L1197.5,989.3 L1200.2,990.7 L1202.8,992.2 L1205.5,993.7 L1208.1,995.2 L1210.8,996.6 L1213.4,998.0 L1216.1,999.5 L1218.8,1000.9 L1221.4,1002.3 L1224.1,1003.6 L1226.8,1005.0 L1229.5,1006.4 L1232.2,1007.7 L1234.9,1009.1 L1237.7,1010.4 L1240.4,1011.7 L1243.1,1013.0 L1245.8,1014.3 L1248.6,1015.5 L1251.3,1016.8 L1254.1,1018.0 L1256.8,1019.2 L1259.6,1020.5 L1262.4,1021.7 L1265.1,1022.8 L1267.9,1024.0 L1270.7,1025.2 L1273.5,1026.3 L1276.3,1027.4 L1279.1,1028.6 L1281.9,1029.7 L1284.7,1030.8 L1287.5,1031.8 L1290.3,1032.9 L1293.1,1033.9 L1295.9,1035.0 L1298.8,1036.0 L1301.6,1037.0 L1304.4,1038.0 L1307.3,1038.9 L1310.1,1039.9 L1313.0,1040.8 L1315.8,1041.7 L1318.7,1042.7 L1321.5,1043.5 L1324.4,1044.4 L1327.3,1045.3 L1330.2,1046.1 L1333.0,1047.0 L1335.9,1047.8 L1338.8,1048.6 L1341.7,1049.4 L1344.6,1050.1 L1347.5,1050.9 L1350.4,1051.6 L1353.3,1052.3 L1356.2,1053.0 L1359.1,1053.7 L1362.0,1054.4 L1365.0,1055.1 L1367.9,1055.7 L1370.8,1056.3 L1373.7,1056.9 L1376.7,1057.5 L1379.6,1058.1 L1382.5,1058.7 L1385.5,1059.2 L1388.4,1059.7 L1391.3,1060.3 L1394.3,1060.8 L1397.2,1061.2 L1400.2,1061.7 L1403.1,1062.2 L1406.1,1062.6 L1409.1,1063.0 L1412.0,1063.4 L1415.0,1063.8 L1417.9,1064.2 L1420.9,1064.5 L1423.9,1064.9 L1426.8,1065.2 L1429.8,1065.5 L1432.8,1065.8 L1435.7,1066.1 L1438.7,1066.3 L1441.7,1066.6 L1444.7,1066.8 L1447.6,1067.0 L1450.6,1067.2 L1453.6,1067.4 L1456.6,1067.6 L1459.6,1067.7 L1462.5,1067.9 L1465.5,1068.0 L1468.5,1068.1 L1471.5,1068.2 L1474.5,1068.3 L1477.5,1068.3 L1480.4,1068.4 L1483.4,1068.4 L1486.4,1068.4 L1489.4,1068.4 L1492.4,1068.4 L1495.4,1068.4 L1498.4,1068.3 L1501.3,1068.2 L1504.3,1068.2 L1507.3,1068.1 L1510.3,1068.0 L1513.3,1067.8 L1516.3,1067.7 L1519.3,1067.5 L1522.2,1067.4 L1525.2,1067.2 L1528.2,1067.0 L1531.2,1066.7 L1534.2,1066.5 L1537.1,1066.3 L1540.1,1066.0 L1543.1,1065.7 L1546.1,1065.4 L1549.0,1065.1 L1552.0,1064.8 L1555.0,1064.4 L1557.9,1064.1 L1560.9,1063.7 L1563.9,1063.3 L1566.8,1062.9 L1569.8,1062.5 L1572.8,1062.1 L1575.7,1061.6 L1578.7,1061.2 L1581.6,1060.7 L1584.6,1060.2 L1587.5,1059.7 L1590.5,1059.2 L1593.4,1058.6 L1596.4,1058.1 L1599.3,1057.5 L1602.3,1057.0 L1605.2,1056.4 L1608.1,1055.8 L1611.1,1055.1 L1614.0,1054.5 L1616.9,1053.9 L1619.9,1053.2 L1622.8,1052.5 L1625.7,1051.8 L1628.6,1051.1 L1631.5,1050.4 L1634.5,1049.7 L1637.4,1049.0 L1640.3,1048.2 L1643.2,1047.4 L1646.1,1046.7 L1649.0,1045.9 L1651.9,1045.1 L1654.8,1044.2 L1657.6,1043.4 L1660.5,1042.5 L1663.4,1041.7 L1666.3,1040.8 L1669.2,1039.9 L1672.0,1039.0 L1674.9,1038.1 L1677.8,1037.2 L1680.6,1036.3 L1683.5,1035.3 L1686.3,1034.3 L1689.2,1033.4 L1692.0,1032.4 L1694.8,1031.4 L1697.7,1030.4 L1700.5,1029.3 L1703.3,1028.3 L1706.2,1027.3 L1709.0,1026.2 L1711.8,1025.1 L1714.6,1024.1 L1717.4,1023.0 L1720.2,1021.9 L1723.0,1020.7 L1725.8,1019.6 L1728.6,1018.5 L1731.4,1017.3 L1734.1,1016.2 L1736.9,1015.0 L1739.7,1013.8 L1742.4,1012.6 L1745.2,1011.4 L1748.0,1010.2 L1750.7,1008.9 L1753.4,1007.7 L1756.2,1006.4 L1758.9,1005.2 L1761.6,1003.9 L1764.4,1002.6 L1767.1,1001.3 L1769.8,1000.0 L1772.5,998.7 L1775.2,997.4 L1777.9,996.0 L1780.6,994.7 L1783.3,993.3 L1785.9,992.0 L1788.6,990.6 L1791.3,989.2 L1793.9,987.8 L1796.6,986.4 L1799.2,985.0 L1801.9,983.5 L1804.5,982.1 L1807.1,980.6 L1809.8,979.2 L1812.4,977.7 L1815.0,976.2 L1817.6,974.7 L1820.2,973.2 L1822.8,971.7 L1825.4,970.1 L1827.9,968.6 L1830.5,967.0 L1833.1,965.5 L1835.6,963.9 L1838.2,962.3 L1840.7,960.7 L1843.3,959.1 L1845.8,957.5 L1848.3,955.8 L1850.8,954.2 L1853.3,952.6 L1855.8,950.9 L1858.3,949.2 L1860.8,947.5 L1863.3,945.8 L1865.8,944.1 L1868.2,942.4 L1870.7,940.7 L1873.1,938.9 L1875.6,937.2 L1878.0,935.4 L1880.4,933.7 L1882.9,931.9 L1885.3,930.1 L1887.7,928.3 L1890.1,926.5 L1892.5,924.6 L1894.8,922.8 L1897.2,921.0 L1899.6,919.1 L1901.9,917.2 L1904.3,915.3 L1906.6,913.4 L1908.9,911.5 L1911.3,909.6 L1913.6,907.7 L1915.9,905.8 L1918.2,903.8 L1920.4,901.9 L1922.7,899.9 L1925.0,897.9 L1927.3,895.9 L1929.5,893.9 L1931.7,891.9 L1934.0,889.9 L1936.2,887.9 L1938.4,885.8 L1940.6,883.8 L1942.8,881.7 L1945.0,879.7 L1947.2,877.6 L1949.3,875.5 L1951.5,873.4 L1953.7,871.3 L1955.8,869.2 L1957.9,867.1 L1960.0,864.9 L1962.2,862.8 L1964.3,860.7 L1966.4,858.5 L1968.4,856.3 L1970.5,854.2 L1972.6,852.0 L1974.6,849.8 L1976.7,847.6 L1978.7,845.4 L1980.7,843.2 L1982.7,841.0 L1984.7,838.8 L1986.7,836.5 L1988.7,834.3 L1990.7,832.0 L1992.6,829.8 L1994.6,827.5 L1996.5,825.2 L1998.4,823.0 L2000.4,820.7 L2002.3,818.4 L2004.2,816.1 L2006.0,813.8 L2007.9,811.5 L2009.8,809.2 L2011.6,806.9 L2013.5,804.5 L2015.3,802.2 L2017.1,799.9 L2018.9,797.5 L2020.7,795.2 L2022.5,792.8 L2024.3,790.5 L2026.0,788.1 L2027.8,785.7 L2028.7,784.5"/>
<path d="M1834.7,-9.6 L1837.4,-8.1 L1840.0,-6.7 L1842.6,-5.2 L1845.2,-3.7 L1847.8,-2.2 L1850.4,-0.7 L1853.0,0.8 L1855.6,2.4 L1858.1,4.0 L1860.7,5.5 L1863.2,7.1 L1865.8,8.8 L1868.3,10.4 L1870.8,12.0 L1873.3,13.7 L1875.8,15.4 L1878.3,17.0 L1880.8,18.7 L1883.3,20.5 L1885.7,22.2 L1888.1,23.9 L1890.6,25.7 L1893.0,27.5 L1895.4,29.3 L1897.8,31.1 L1900.2,32.9 L1902.6,34.7 L1904.9,36.6 L1907.3,38.4 L1909.6,40.3 L1912.0,42.2 L1914.3,44.1 L1916.6,46.0 L1918.9,48.0 L1921.1,49.9 L1923.4,51.9 L1925.7,53.9 L1927.9,55.9 L1930.1,57.9 L1932.3,59.9 L1934.5,61.9 L1936.7,64.0 L1938.9,66.0 L1941.1,68.1 L1943.2,70.2 L1945.3,72.3 L1947.5,74.4 L1949.6,76.6 L1951.7,78.7 L1953.7,80.9 L1955.8,83.0 L1957.8,85.2 L1959.9,87.4 L1961.9,89.6 L1963.9,91.9 L1965.9,94.1 L1967.9,96.4 L1969.8,98.6 L1971.8,100.9 L1973.7,103.2 L1975.6,105.5 L1977.5,107.8 L1979.4,110.2 L1981.2,112.5 L1983.1,114.9 L1984.9,117.3 L1986.7,119.6 L1988.5,122.0 L1990.3,124.5 L1992.1,126.9 L1993.8,129.3 L1995.6,131.8 L1997.3,134.2 L1999.0,136.7 L2000.7,139.2 L2002.3,141.7 L2004.0,144.2 L2005.6,146.7 L2007.2,149.3 L2008.8,151.8 L2010.4,154.4 L2011.9,157.0 L2013.5,159.6 L2015.0,162.2 L2016.5,164.8 L2018.0,167.4 L2019.5,170.1 L2020.9,172.7 L2022.3,175.4 L2023.7,178.1 L2024.8,180.2"/>
<path d="M-12.1,555.6 L-9.2,555.4 L-6.2,555.2 L-3.2,555.1 L-0.3,554.9 L2.7,554.8 L5.7,554.7 L8.7,554.7 L11.7,554.6 L14.7,554.6 L17.8,554.6 L20.8,554.7 L23.8,554.7 L26.8,554.8 L29.9,554.9 L32.9,555.0 L35.9,555.2 L39.0,555.4 L42.0,555.6 L45.0,555.8 L48.1,556.1 L51.1,556.3 L54.1,556.6 L57.2,557.0 L60.2,557.3 L63.2,557.7 L66.3,558.1 L69.3,558.6 L72.3,559.0 L75.3,559.5 L78.3,560.0 L81.3,560.6 L84.3,561.1 L87.3,561.7 L90.2,562.3 L93.2,563.0 L96.2,563.7 L99.1,564.4 L102.0,565.1 L105.0,565.8 L107.9,566.6 L110.8,567.4 L113.7,568.3 L116.6,569.2 L119.4,570.1 L122.3,571.0 L125.1,571.9 L127.9,572.9 L130.8,573.9 L133.5,575.0 L136.3,576.0 L139.1,577.1 L141.8,578.3 L144.6,579.4 L147.3,580.6 L150.0,581.8 L152.7,583.1 L155.4,584.3 L158.0,585.6 L160.7,586.9 L163.3,588.3 L165.9,589.6 L168.5,591.0 L171.1,592.4 L173.7,593.9 L176.2,595.4 L178.8,596.8 L181.3,598.3 L183.8,599.9 L186.3,601.4 L188.8,603.0 L191.3,604.6 L193.8,606.2 L196.2,607.9 L198.7,609.5 L201.1,611.2 L203.5,612.9 L205.9,614.6 L208.3,616.4 L210.7,618.2 L213.1,619.9 L215.4,621.7 L217.8,623.5 L220.1,625.4 L222.4,627.2 L224.8,629.1 L227.1,631.0 L229.4,632.9 L231.6,634.8 L233.9,636.7 L236.2,638.7 L238.4,640.6 L240.7,642.6 L242.9,644.6 L245.1,646.6 L247.4,648.6 L249.6,650.7 L251.8,652.7 L253.9,654.8 L256.1,656.9 L258.3,658.9 L260.5,661.0 L262.6,663.1 L264.7,665.3 L266.9,667.4 L269.0,669.5 L271.1,671.7 L273.2,673.8 L275.3,676.0 L277.4,678.2 L279.5,680.4 L281.6,682.5 L283.7,684.7 L285.8,686.9 L287.8,689.2 L289.9,691.4 L291.9,693.6 L294.0,695.8 L296.0,698.1 L298.0,700.3 L300.0,702.6 L302.1,704.8 L304.1,707.1 L306.1,709.4 L308.1,711.6 L310.1,713.9 L312.1,716.2 L314.0,718.5 L316.0,720.7 L318.0,723.0 L320.0,725.3 L321.9,727.6 L323.9,729.9 L325.8,732.2 L327.8,734.4 L329.7,736.7 L331.7,739.0 L333.6,741.3 L335.6,743.6 L337.5,745.9 L339.4,748.2 L341.4,750.4 L343.3,752.7 L345.2,755.0 L347.1,757.3 L349.0,759.5 L350.9,761.8 L352.3,763.4"/>
<path d="M340.4,842.4 L340.6,845.4 L340.8,848.4 L340.9,851.3 L341.0,854.3 L341.1,857.3 L341.2,860.3 L341.2,863.3 L341.2,866.2 L341.2,869.2 L341.1,872.2 L341.0,875.2 L340.9,878.2 L340.8,881.2 L340.7,884.2 L340.5,887.2 L340.3,890.2 L340.0,893.2 L339.8,896.2 L339.5,899.2 L339.2,902.2 L338.9,905.2 L338.5,908.2 L338.1,911.2 L337.7,914.1 L337.3,917.1 L336.8,920.1 L336.3,923.1 L335.8,926.0 L335.3,929.0 L334.7,932.0 L334.1,934.9 L333.5,937.9 L332.8,940.8 L332.1,943.7 L331.4,946.7 L330.7,949.6 L330.0,952.5 L329.2,955.4 L328.4,958.3 L327.5,961.2 L326.7,964.1 L325.8,967.0 L324.9,969.8 L323.9,972.7 L323.0,975.5 L322.0,978.4 L321.0,981.2 L319.9,984.0 L318.8,986.8 L317.7,989.6 L316.6,992.4 L315.4,995.1 L314.3,997.9 L313.1,1000.6 L311.8,1003.4 L310.6,1006.1 L309.3,1008.8 L308.0,1011.5 L306.6,1014.2 L305.2,1016.8 L303.8,1019.5 L302.4,1022.1 L301.0,1024.7 L299.5,1027.3 L298.0,1029.9 L296.5,1032.4 L294.9,1035.0 L293.3,1037.5 L291.7,1040.0 L290.0,1042.5 L288.4,1045.0 L286.7,1047.5 L285.0,1049.9 L283.2,1052.3 L281.4,1054.7 L279.6,1057.1 L277.8,1059.5 L275.9,1061.8 L274.0,1064.1 L272.1,1066.4 L270.2,1068.7 L268.2,1070.9 L266.2,1073.2 L264.2,1075.4 L262.1,1077.6 L260.0,1079.7 L257.9,1081.9 L255.8,1084.0 L253.6,1086.1 L251.4,1088.1 L249.2,1090.2 L247.0,1092.2 L244.7,1094.2 L242.4,1096.1 L240.1,1098.1 L237.7,1100.0 L235.3,1101.9 L232.9,1103.7 L230.4,1105.6 L228.0,1107.4 L225.5,1109.1 L222.9,1110.9 L220.4,1112.6 L217.8,1114.3 L217.4,1114.5"/>
<path d="M1289.8,1114.4 L1292.6,1113.3 L1295.3,1112.2 L1298.1,1111.1 L1300.9,1110.1 L1303.7,1109.1 L1306.5,1108.1 L1309.4,1107.2 L1312.2,1106.3 L1315.1,1105.4 L1317.9,1104.6 L1320.8,1103.8 L1323.7,1103.0 L1326.6,1102.3 L1329.5,1101.5 L1332.4,1100.9 L1335.3,1100.2 L1338.2,1099.6 L1341.2,1099.0 L1344.1,1098.4 L1347.0,1097.9 L1350.0,1097.4 L1352.9,1096.9 L1355.9,1096.5 L1358.9,1096.0 L1361.9,1095.7 L1364.8,1095.3 L1367.8,1095.0 L1370.8,1094.7 L1373.8,1094.4 L1376.8,1094.1 L1379.8,1093.9 L1382.8,1093.7 L1385.8,1093.5 L1388.8,1093.4 L1391.8,1093.3 L1394.9,1093.2 L1397.9,1093.1 L1400.9,1093.0 L1403.9,1093.0 L1406.9,1093.0 L1410.0,1093.1 L1413.0,1093.1 L1416.0,1093.2 L1419.0,1093.3 L1422.0,1093.4 L1425.1,1093.6 L1428.1,1093.7 L1431.1,1093.9 L1434.1,1094.1 L1437.1,1094.4 L1440.1,1094.6 L1443.1,1094.9 L1446.1,1095.2 L1449.1,1095.6 L1452.1,1095.9 L1455.1,1096.3 L1458.1,1096.7 L1461.1,1097.1 L1464.1,1097.5 L1467.1,1097.9 L1470.0,1098.4 L1473.0,1098.9 L1476.0,1099.4 L1478.9,1099.9 L1481.8,1100.5 L1484.8,1101.1 L1487.7,1101.6 L1490.6,1102.2 L1493.5,1102.9 L1496.5,1103.5 L1499.4,1104.2 L1502.2,1104.8 L1505.1,1105.5 L1508.0,1106.2 L1510.8,1107.0 L1513.7,1107.7 L1516.5,1108.5 L1519.4,1109.2 L1522.2,1110.0 L1525.0,1110.8 L1525.2,1110.9"/>
<path d="M1945.1,1115.2 L1947.8,1114.0 L1950.6,1112.8 L1953.3,1111.5 L1956.0,1110.2 L1958.6,1108.8 L1961.3,1107.4 L1963.9,1106.0 L1966.5,1104.5 L1969.1,1103.0 L1971.7,1101.5 L1974.3,1099.9 L1976.8,1098.4 L1979.4,1096.8 L1982.0,1095.3 L1984.5,1093.7 L1987.1,1092.2 L1989.7,1090.7 L1992.3,1089.1 L1994.9,1087.7 L1997.5,1086.2 L2000.1,1084.8 L2002.8,1083.4 L2005.5,1082.1 L2008.2,1080.8 L2010.9,1079.5 L2013.7,1078.4 L2016.5,1077.2 L2019.3,1076.2 L2022.2,1075.2 L2025.1,1074.4 L2025.2,1074.3"/>
</g>
<g id="dots">
<defs><clipPath id="cabove"><rect x="0" y="0" width="2017" height="72"/></clipPath>
<clipPath id="cspec"><rect x="746" y="72" width="456.5" height="680"/></clipPath></defs>
<g fill="#3a2c3c">
<circle cx="211.5" cy="392.5" r="32.5"/>
<circle cx="324" cy="295" r="18"/>
<circle cx="1064" cy="68" r="33" clip-path="url(#cabove)"/>
<circle cx="556" cy="895" r="18"/>
<circle cx="1945" cy="900" r="33"/>
</g>
<clipPath id="cdot"><circle cx="1064" cy="68" r="33"/></clipPath>
<g clip-path="url(#cdot)"><rect x="746" y="72" width="456.5" height="678.6" fill="url(#spec)"/><rect x="746" y="72" width="456.5" height="678.6" fill="#ffd0a0" fill-opacity="0.09"/></g>
<g fill="#3a3550">
<circle cx="573.3" cy="513" r="33"/>
<path d="M-35.5,849.3 A38.5,38.5 0 0 0 41.5,849.3 Z"/>
<circle cx="806" cy="1113" r="33"/>
<circle cx="1455" cy="462" r="63"/>
<circle cx="1510" cy="437" r="61"/>
<circle cx="1533" cy="483" r="61.5"/>
<circle cx="1475" cy="508" r="60"/>
</g>
</g>
<!-- grid -->
<g stroke="#fff" stroke-opacity="0.24" stroke-width="4">
<line x1="160" y1="73.0" x2="1851" y2="73.0"/>
<line x1="160" y1="134.6" x2="1851" y2="134.6"/>
<line x1="160" y1="196.2" x2="1851" y2="196.2"/>
<line x1="160" y1="257.8" x2="1851" y2="257.8"/>
<line x1="160" y1="319.4" x2="1851" y2="319.4"/>
<line x1="160" y1="381.0" x2="1851" y2="381.0"/>
<line x1="160" y1="442.6" x2="1851" y2="442.6"/>
<line x1="160" y1="504.2" x2="1851" y2="504.2"/>
<line x1="160" y1="565.8" x2="1851" y2="565.8"/>
<line x1="160" y1="627.4" x2="1851" y2="627.4"/>
<line x1="160" y1="689.0" x2="1851" y2="689.0"/>
<line x1="160" y1="750.6" x2="1851" y2="750.6"/>
<line x1="160" y1="69" x2="160" y2="752.6" stroke-width="3.7"/>
</g>
<polygon points="264.5,277.8 1045.1,438.5 1039.1,447.7 1058.0,440.3 1043.6,426.1 1045.4,436.9 264.7,276.6" fill="url(#ga4)" fill-opacity="0.85"/>
<!-- fill -->
<path d="M160.0,691.7 L163.5,691.8 L166.3,691.9 L169.1,692.0 L171.9,692.1 L174.8,692.2 L177.6,692.3 L180.4,692.4 L183.3,692.5 L186.2,692.6 L189.0,692.7 L191.9,692.7 L194.8,692.8 L197.8,692.9 L200.7,692.9 L203.6,693.0 L206.5,693.1 L209.5,693.1 L212.5,693.2 L215.4,693.2 L218.4,693.2 L221.4,693.3 L224.4,693.3 L227.4,693.3 L230.4,693.3 L233.4,693.4 L236.4,693.4 L239.4,693.4 L242.5,693.4 L245.5,693.4 L248.6,693.4 L251.6,693.4 L254.7,693.4 L257.7,693.3 L260.8,693.3 L263.9,693.3 L266.9,693.3 L270.0,693.2 L273.1,693.2 L276.2,693.2 L279.3,693.1 L282.3,693.1 L285.4,693.0 L288.5,693.0 L291.6,692.9 L294.7,692.9 L297.8,692.8 L300.9,692.7 L304.0,692.7 L307.1,692.6 L310.2,692.5 L313.3,692.4 L316.4,692.3 L319.5,692.3 L322.6,692.2 L325.7,692.1 L328.8,692.0 L331.8,691.9 L334.9,691.8 L338.0,691.7 L341.1,691.5 L344.2,691.4 L347.3,691.3 L350.3,691.2 L353.4,691.1 L356.5,690.9 L359.5,690.8 L362.6,690.7 L365.6,690.5 L368.7,690.4 L371.7,690.3 L374.7,690.1 L377.8,690.0 L380.8,689.8 L383.8,689.6 L386.8,689.5 L389.8,689.3 L392.8,689.1 L395.8,688.9 L398.8,688.7 L401.7,688.5 L404.7,688.2 L407.7,688.0 L410.6,687.7 L413.5,687.4 L416.5,687.0 L419.4,686.7 L422.3,686.3 L425.2,685.9 L428.0,685.5 L430.9,685.0 L433.8,684.5 L436.6,684.0 L439.5,683.4 L442.3,682.8 L445.1,682.2 L447.9,681.5 L450.7,680.8 L453.5,680.0 L456.2,679.2 L459.0,678.3 L461.7,677.4 L464.4,676.5 L467.1,675.5 L469.8,674.4 L472.5,673.3 L475.1,672.2 L477.8,671.0 L480.4,669.7 L483.0,668.4 L485.6,667.0 L488.2,665.6 L490.7,664.2 L493.3,662.7 L495.8,661.2 L498.3,659.6 L500.8,657.9 L503.3,656.3 L505.7,654.6 L508.1,652.8 L510.5,651.0 L512.9,649.2 L515.3,647.4 L517.6,645.5 L520.0,643.5 L522.3,641.6 L524.5,639.6 L526.8,637.5 L529.0,635.5 L531.3,633.4 L533.4,631.2 L535.6,629.1 L537.8,626.9 L539.9,624.7 L542.0,622.5 L544.1,620.3 L546.2,618.0 L548.3,615.8 L550.3,613.5 L552.3,611.2 L554.3,608.9 L556.4,606.6 L558.3,604.3 L560.3,601.9 L562.3,599.6 L564.3,597.3 L566.2,595.0 L568.1,592.7 L570.1,590.3 L572.0,588.0 L573.9,585.7 L575.8,583.3 L577.7,581.0 L579.6,578.7 L581.4,576.3 L583.3,574.0 L585.1,571.7 L587.0,569.3 L588.8,567.0 L590.7,564.6 L592.5,562.3 L594.3,559.9 L596.1,557.5 L597.9,555.2 L599.7,552.8 L601.5,550.4 L603.2,548.1 L605.0,545.7 L606.8,543.3 L608.5,540.9 L610.3,538.5 L612.0,536.1 L613.7,533.7 L615.5,531.3 L617.2,528.9 L618.9,526.5 L620.6,524.0 L622.3,521.6 L624.0,519.2 L625.7,516.7 L627.4,514.3 L629.1,511.9 L630.8,509.4 L632.5,506.9 L634.1,504.5 L635.8,502.0 L637.5,499.5 L639.2,497.0 L640.8,494.5 L642.5,492.0 L644.1,489.5 L645.8,487.0 L647.4,484.5 L649.1,481.9 L650.7,479.4 L652.4,476.9 L654.0,474.4 L655.7,471.8 L657.4,469.3 L659.0,466.8 L660.7,464.3 L662.4,461.8 L664.1,459.3 L665.8,456.8 L667.5,454.3 L669.3,451.8 L671.0,449.3 L672.8,446.9 L674.6,444.5 L676.4,442.1 L678.2,439.7 L680.0,437.3 L681.9,434.9 L683.7,432.6 L685.6,430.3 L687.6,428.0 L689.5,425.7 L691.5,423.5 L693.5,421.3 L695.5,419.1 L697.6,416.9 L699.7,414.8 L701.8,412.7 L703.9,410.7 L706.1,408.7 L708.3,406.7 L710.5,404.7 L712.8,402.8 L715.1,400.9 L717.4,399.1 L719.8,397.2 L722.1,395.5 L724.5,393.7 L727.0,392.0 L729.4,390.3 L731.9,388.7 L734.4,387.1 L736.9,385.5 L739.5,384.0 L742.0,382.5 L744.6,381.0 L747.3,379.6 L749.9,378.3 L752.6,376.9 L755.2,375.6 L758.0,374.3 L760.7,373.1 L763.4,371.9 L766.2,370.8 L769.0,369.7 L771.8,368.6 L774.6,367.6 L777.4,366.6 L780.3,365.7 L783.1,364.8 L786.0,363.9 L788.9,363.1 L791.9,362.4 L794.8,361.6 L797.7,360.9 L800.7,360.3 L803.7,359.7 L806.6,359.2 L809.6,358.6 L812.6,358.2 L815.6,357.8 L818.6,357.4 L821.7,357.1 L824.7,356.8 L827.7,356.5 L830.7,356.3 L833.8,356.2 L836.8,356.1 L839.8,356.0 L842.9,356.0 L845.9,356.1 L848.9,356.2 L851.9,356.3 L854.9,356.5 L857.9,356.7 L860.9,357.0 L863.9,357.3 L866.9,357.7 L869.9,358.1 L872.8,358.6 L875.8,359.1 L878.7,359.7 L881.6,360.3 L884.5,361.0 L887.4,361.7 L890.3,362.5 L893.1,363.3 L896.0,364.2 L898.8,365.1 L901.6,366.0 L904.4,367.0 L907.2,368.1 L910.0,369.1 L912.8,370.2 L915.5,371.4 L918.3,372.5 L921.0,373.7 L923.7,374.9 L926.5,376.2 L929.2,377.5 L931.9,378.8 L934.6,380.1 L937.3,381.4 L939.9,382.8 L942.6,384.1 L945.3,385.5 L948.0,386.9 L950.6,388.3 L953.3,389.7 L956.0,391.2 L958.6,392.6 L961.3,394.0 L964.0,395.4 L966.6,396.9 L969.3,398.3 L971.9,399.7 L974.6,401.2 L977.3,402.6 L979.9,404.0 L982.6,405.4 L985.3,406.8 L988.0,408.2 L990.6,409.6 L993.3,411.0 L996.0,412.3 L998.7,413.7 L1001.4,415.1 L1004.1,416.4 L1006.8,417.8 L1009.4,419.1 L1012.1,420.4 L1014.8,421.8 L1017.5,423.1 L1020.2,424.4 L1022.9,425.7 L1025.6,427.0 L1028.4,428.4 L1031.1,429.6 L1033.8,430.9 L1036.5,432.2 L1039.2,433.5 L1041.9,434.8 L1044.6,436.1 L1047.4,437.3 L1050.1,438.6 L1052.8,439.8 L1055.5,441.1 L1058.3,442.3 L1061.0,443.6 L1063.7,444.8 L1066.5,446.0 L1069.2,447.2 L1071.9,448.4 L1074.7,449.7 L1077.4,450.9 L1080.2,452.1 L1082.9,453.3 L1085.7,454.4 L1088.4,455.6 L1091.2,456.8 L1093.9,458.0 L1096.7,459.1 L1099.4,460.3 L1102.2,461.5 L1104.9,462.6 L1107.7,463.8 L1110.5,464.9 L1113.2,466.1 L1116.0,467.2 L1118.8,468.3 L1121.5,469.4 L1124.3,470.6 L1127.1,471.7 L1129.9,472.8 L1132.6,473.9 L1135.4,475.0 L1138.2,476.1 L1141.0,477.2 L1143.8,478.3 L1146.6,479.3 L1149.3,480.4 L1152.1,481.5 L1154.9,482.6 L1157.7,483.6 L1160.5,484.7 L1163.3,485.7 L1166.1,486.8 L1168.9,487.8 L1171.7,488.9 L1174.5,489.9 L1177.3,491.0 L1180.1,492.0 L1182.9,493.0 L1185.7,494.0 L1188.5,495.0 L1191.3,496.1 L1194.2,497.1 L1197.0,498.1 L1199.8,499.1 L1202.6,500.1 L1205.4,501.1 L1208.2,502.0 L1211.1,503.0 L1213.9,504.0 L1216.7,505.0 L1219.5,506.0 L1222.4,506.9 L1225.2,507.9 L1228.0,508.9 L1230.9,509.8 L1233.7,510.8 L1236.5,511.7 L1239.4,512.7 L1242.2,513.6 L1245.0,514.5 L1247.9,515.5 L1250.7,516.4 L1253.6,517.3 L1256.4,518.3 L1259.2,519.2 L1262.1,520.1 L1264.9,521.0 L1267.8,521.9 L1270.6,522.8 L1273.5,523.8 L1276.3,524.7 L1279.2,525.6 L1282.0,526.4 L1284.9,527.3 L1287.8,528.2 L1290.6,529.1 L1293.5,530.0 L1296.3,530.9 L1299.2,531.8 L1302.1,532.6 L1304.9,533.5 L1307.8,534.4 L1310.7,535.2 L1313.5,536.1 L1316.4,536.9 L1319.3,537.8 L1322.1,538.7 L1325.0,539.5 L1327.9,540.3 L1330.8,541.2 L1333.6,542.0 L1336.5,542.9 L1339.4,543.7 L1342.3,544.5 L1345.1,545.4 L1348.0,546.2 L1350.9,547.0 L1353.8,547.8 L1356.7,548.7 L1359.5,549.5 L1362.4,550.3 L1365.3,551.1 L1368.2,551.9 L1371.1,552.7 L1374.0,553.5 L1376.9,554.3 L1379.8,555.1 L1382.7,555.9 L1385.6,556.7 L1388.4,557.5 L1391.3,558.3 L1394.2,559.1 L1397.1,559.9 L1400.0,560.7 L1402.9,561.5 L1405.8,562.3 L1408.7,563.0 L1411.6,563.8 L1414.5,564.6 L1417.4,565.4 L1420.3,566.1 L1423.2,566.9 L1426.1,567.7 L1429.0,568.4 L1432.0,569.2 L1434.9,569.9 L1437.8,570.7 L1440.7,571.5 L1443.6,572.2 L1446.5,573.0 L1449.4,573.7 L1452.3,574.5 L1455.2,575.2 L1458.1,576.0 L1461.1,576.7 L1464.0,577.4 L1466.9,578.2 L1469.8,578.9 L1472.7,579.6 L1475.6,580.4 L1478.6,581.1 L1481.5,581.8 L1484.4,582.6 L1487.3,583.3 L1490.2,584.0 L1493.1,584.7 L1496.1,585.4 L1499.0,586.1 L1501.9,586.9 L1504.8,587.6 L1507.8,588.3 L1510.7,589.0 L1513.6,589.7 L1516.5,590.4 L1519.5,591.1 L1522.4,591.8 L1525.3,592.5 L1528.2,593.2 L1531.2,593.9 L1534.1,594.6 L1537.0,595.3 L1539.9,596.0 L1542.9,596.7 L1545.8,597.3 L1548.7,598.0 L1551.7,598.7 L1554.6,599.4 L1557.5,600.1 L1560.5,600.7 L1563.4,601.4 L1566.3,602.1 L1569.3,602.8 L1572.2,603.4 L1575.1,604.1 L1578.1,604.8 L1581.0,605.4 L1583.9,606.1 L1586.9,606.8 L1589.8,607.4 L1592.7,608.1 L1595.7,608.7 L1598.6,609.4 L1601.5,610.0 L1604.5,610.7 L1607.4,611.3 L1610.3,612.0 L1613.3,612.6 L1616.2,613.3 L1619.2,613.9 L1622.1,614.6 L1625.0,615.2 L1628.0,615.8 L1630.9,616.5 L1633.8,617.1 L1636.8,617.7 L1639.7,618.4 L1642.7,619.0 L1645.6,619.6 L1648.5,620.3 L1651.5,620.9 L1654.4,621.5 L1657.3,622.1 L1660.3,622.8 L1663.2,623.4 L1666.2,624.0 L1669.1,624.6 L1672.0,625.2 L1675.0,625.8 L1677.9,626.4 L1680.9,627.1 L1683.8,627.7 L1686.7,628.3 L1689.7,628.9 L1692.6,629.5 L1695.6,630.1 L1698.5,630.7 L1701.4,631.3 L1704.4,631.9 L1707.3,632.5 L1710.3,633.1 L1713.2,633.7 L1716.1,634.3 L1719.1,634.9 L1722.0,635.5 L1724.9,636.0 L1727.9,636.6 L1730.8,637.2 L1733.8,637.8 L1736.7,638.4 L1739.6,639.0 L1742.6,639.6 L1745.5,640.1 L1748.5,640.7 L1751.4,641.3 L1754.3,641.9 L1757.3,642.4 L1760.2,643.0 L1763.1,643.6 L1766.1,644.2 L1769.0,644.7 L1771.9,645.3 L1774.9,645.9 L1777.8,646.4 L1780.8,647.0 L1783.7,647.6 L1786.6,648.1 L1789.6,648.7 L1792.5,649.2 L1795.4,649.8 L1798.4,650.4 L1801.3,650.9 L1804.2,651.5 L1807.2,652.0 L1810.1,652.6 L1813.0,653.1 L1815.9,653.7 L1818.9,654.2 L1821.8,654.8 L1824.7,655.3 L1827.7,655.9 L1830.6,656.4 L1833.5,657.0 L1836.4,657.5 L1839.4,658.1 L1842.3,658.6 L1845.2,659.1 L1848.2,659.7 L1851.1,660.2 L1853.0,660.5 L1853,750.6 L160,750.6 Z" fill="url(#fillg)"/>
<g stroke="#fff" stroke-opacity="0.1">
<line x1="160" y1="69" x2="160" y2="752.6" stroke-width="3.7"/>
<line x1="158.2" y1="750.6" x2="1851" y2="750.6" stroke-width="4"/>
</g>
<polygon points="242.8,83.6 737.8,364.7 728.8,368.4 752.0,370.0 738.6,351.0 740.1,360.5 243.2,83.0" fill="#d84b4a"/>
<polygon points="235.9,275.4 652.1,437.6 643.8,442.5 667.0,440.7 651.0,423.8 653.9,433.1 236.1,274.6" fill="#d84b4a"/>
<polygon points="250.5,84.2 916.8,365.4 909.0,370.9 930.0,370.0 916.0,354.3 917.4,363.7 251.1,83.0" fill="#d84b4a" fill-opacity="0.45"/>
<!-- curves -->
<path d="M160.0,691.7 L163.5,691.8 L166.3,691.9 L169.1,692.0 L171.9,692.1 L174.8,692.2 L177.6,692.3 L180.4,692.4 L183.3,692.5 L186.2,692.6 L189.0,692.7 L191.9,692.7 L194.8,692.8 L197.8,692.9 L200.7,692.9 L203.6,693.0 L206.5,693.1 L209.5,693.1 L212.5,693.2 L215.4,693.2 L218.4,693.2 L221.4,693.3 L224.4,693.3 L227.4,693.3 L230.4,693.3 L233.4,693.4 L236.4,693.4 L239.4,693.4 L242.5,693.4 L245.5,693.4 L248.6,693.4 L251.6,693.4 L254.7,693.4 L257.7,693.3 L260.8,693.3 L263.9,693.3 L266.9,693.3 L270.0,693.2 L273.1,693.2 L276.2,693.2 L279.3,693.1 L282.3,693.1 L285.4,693.0 L288.5,693.0 L291.6,692.9 L294.7,692.9 L297.8,692.8 L300.9,692.7 L304.0,692.7 L307.1,692.6 L310.2,692.5 L313.3,692.4 L316.4,692.3 L319.5,692.3 L322.6,692.2 L325.7,692.1 L328.8,692.0 L331.8,691.9 L334.9,691.8 L338.0,691.7 L341.1,691.5 L344.2,691.4 L347.3,691.3 L350.3,691.2 L353.4,691.1 L356.5,690.9 L359.5,690.8 L362.6,690.7 L365.6,690.5 L368.7,690.4 L371.7,690.3 L374.7,690.1 L377.8,690.0 L380.8,689.8 L383.8,689.6 L386.8,689.5 L389.8,689.3 L392.8,689.1 L395.8,688.9 L398.8,688.7 L401.7,688.5 L404.7,688.2 L407.7,688.0 L410.6,687.7 L413.5,687.4 L416.5,687.0 L419.4,686.7 L422.3,686.3 L425.2,685.9 L428.0,685.5 L430.9,685.0 L433.8,684.5 L436.6,684.0 L439.5,683.4 L442.3,682.8 L445.1,682.2 L447.9,681.5 L450.7,680.8 L453.5,680.0 L456.2,679.2 L459.0,678.3 L461.7,677.4 L464.4,676.5 L467.1,675.5 L469.8,674.4 L472.5,673.3 L475.1,672.2 L477.8,671.0 L480.4,669.7 L483.0,668.4 L485.6,667.0 L488.2,665.6 L490.7,664.2 L493.3,662.7 L495.8,661.2 L498.3,659.6 L500.8,657.9 L503.3,656.3 L505.7,654.6 L508.1,652.8 L510.5,651.0 L512.9,649.2 L515.3,647.4 L517.6,645.5 L520.0,643.5 L522.3,641.6 L524.5,639.6 L526.8,637.5 L529.0,635.5 L531.3,633.4 L533.4,631.2 L535.6,629.1 L537.8,626.9 L539.9,624.7 L542.0,622.5 L544.1,620.3 L546.2,618.0 L548.3,615.8 L550.3,613.5 L552.3,611.2 L554.3,608.9 L556.4,606.6 L558.3,604.3 L560.3,601.9 L562.3,599.6 L564.3,597.3 L566.2,595.0 L568.1,592.7 L570.1,590.3 L572.0,588.0 L573.9,585.7 L575.8,583.3 L577.7,581.0 L579.6,578.7 L581.4,576.3 L583.3,574.0 L585.1,571.7 L587.0,569.3 L588.8,567.0 L590.7,564.6 L592.5,562.3 L594.3,559.9 L596.1,557.5 L597.9,555.2 L599.7,552.8 L601.5,550.4 L603.2,548.1 L605.0,545.7 L606.8,543.3 L608.5,540.9 L610.3,538.5 L612.0,536.1 L613.7,533.7 L615.5,531.3 L617.2,528.9 L618.9,526.5 L620.6,524.0 L622.3,521.6 L624.0,519.2 L625.7,516.7 L627.4,514.3 L629.1,511.9 L630.8,509.4 L632.5,506.9 L634.1,504.5 L635.8,502.0 L637.5,499.5 L639.2,497.0 L640.8,494.5 L642.5,492.0 L644.1,489.5 L645.8,487.0 L647.4,484.5 L649.1,481.9 L650.7,479.4 L652.4,476.9 L654.0,474.4 L655.7,471.8 L657.4,469.3 L659.0,466.8 L660.7,464.3 L662.4,461.8 L664.1,459.3 L665.8,456.8 L667.5,454.3 L669.3,451.8 L671.0,449.3 L672.8,446.9 L674.6,444.5 L676.4,442.1 L678.2,439.7 L680.0,437.3 L681.9,434.9 L683.7,432.6 L685.6,430.3 L687.6,428.0 L689.5,425.7 L691.5,423.5 L693.5,421.3 L695.5,419.1 L697.6,416.9 L699.7,414.8 L701.8,412.7 L703.9,410.7 L706.1,408.7 L708.3,406.7 L710.5,404.7 L712.8,402.8 L715.1,400.9 L717.4,399.1 L719.8,397.2 L722.1,395.5 L724.5,393.7 L727.0,392.0 L729.4,390.3 L731.9,388.7 L734.4,387.1 L736.9,385.5 L739.5,384.0 L742.0,382.5 L744.6,381.0 L747.3,379.6 L749.9,378.3 L752.6,376.9 L755.2,375.6 L758.0,374.3 L760.7,373.1 L763.4,371.9 L766.2,370.8 L769.0,369.7 L771.8,368.6 L774.6,367.6 L777.4,366.6 L780.3,365.7 L783.1,364.8 L786.0,363.9 L788.9,363.1 L791.9,362.4 L794.8,361.6 L797.7,360.9 L800.7,360.3 L803.7,359.7 L806.6,359.2 L809.6,358.6 L812.6,358.2 L815.6,357.8 L818.6,357.4 L821.7,357.1 L824.7,356.8 L827.7,356.5 L830.7,356.3 L833.8,356.2 L836.8,356.1 L839.8,356.0 L842.9,356.0 L845.9,356.1 L848.9,356.2 L851.9,356.3 L854.9,356.5 L857.9,356.7 L860.9,357.0 L863.9,357.3 L866.9,357.7 L869.9,358.1 L872.8,358.6 L875.8,359.1 L878.7,359.7 L881.6,360.3 L884.5,361.0 L887.4,361.7 L890.3,362.5 L893.1,363.3 L896.0,364.2 L898.8,365.1 L901.6,366.0 L904.4,367.0 L907.2,368.1 L910.0,369.1 L912.8,370.2 L915.5,371.4 L918.3,372.5 L921.0,373.7 L923.7,374.9 L926.5,376.2 L929.2,377.5 L931.9,378.8 L934.6,380.1 L937.3,381.4 L939.9,382.8 L942.6,384.1 L945.3,385.5 L948.0,386.9 L950.6,388.3 L953.3,389.7 L956.0,391.2 L958.6,392.6 L961.3,394.0 L964.0,395.4 L966.6,396.9 L969.3,398.3 L971.9,399.7 L974.6,401.2 L977.3,402.6 L979.9,404.0 L982.6,405.4 L985.3,406.8 L988.0,408.2 L990.6,409.6 L993.3,411.0 L996.0,412.3 L998.7,413.7 L1001.4,415.1 L1004.1,416.4 L1006.8,417.8 L1009.4,419.1 L1012.1,420.4 L1014.8,421.8 L1017.5,423.1 L1020.2,424.4 L1022.9,425.7 L1025.6,427.0 L1028.4,428.4 L1031.1,429.6 L1033.8,430.9 L1036.5,432.2 L1039.2,433.5 L1041.9,434.8 L1044.6,436.1 L1047.4,437.3 L1050.1,438.6 L1052.8,439.8 L1055.5,441.1 L1058.3,442.3 L1061.0,443.6 L1063.7,444.8 L1066.5,446.0 L1069.2,447.2 L1071.9,448.4 L1074.7,449.7 L1077.4,450.9 L1080.2,452.1 L1082.9,453.3 L1085.7,454.4 L1088.4,455.6 L1091.2,456.8 L1093.9,458.0 L1096.7,459.1 L1099.4,460.3 L1102.2,461.5 L1104.9,462.6 L1107.7,463.8 L1110.5,464.9 L1113.2,466.1 L1116.0,467.2 L1118.8,468.3 L1121.5,469.4 L1124.3,470.6 L1127.1,471.7 L1129.9,472.8 L1132.6,473.9 L1135.4,475.0 L1138.2,476.1 L1141.0,477.2 L1143.8,478.3 L1146.6,479.3 L1149.3,480.4 L1152.1,481.5 L1154.9,482.6 L1157.7,483.6 L1160.5,484.7 L1163.3,485.7 L1166.1,486.8 L1168.9,487.8 L1171.7,488.9 L1174.5,489.9 L1177.3,491.0 L1180.1,492.0 L1182.9,493.0 L1185.7,494.0 L1188.5,495.0 L1191.3,496.1 L1194.2,497.1 L1197.0,498.1 L1199.8,499.1 L1202.6,500.1 L1205.4,501.1 L1208.2,502.0 L1211.1,503.0 L1213.9,504.0 L1216.7,505.0 L1219.5,506.0 L1222.4,506.9 L1225.2,507.9 L1228.0,508.9 L1230.9,509.8 L1233.7,510.8 L1236.5,511.7 L1239.4,512.7 L1242.2,513.6 L1245.0,514.5 L1247.9,515.5 L1250.7,516.4 L1253.6,517.3 L1256.4,518.3 L1259.2,519.2 L1262.1,520.1 L1264.9,521.0 L1267.8,521.9 L1270.6,522.8 L1273.5,523.8 L1276.3,524.7 L1279.2,525.6 L1282.0,526.4 L1284.9,527.3 L1287.8,528.2 L1290.6,529.1 L1293.5,530.0 L1296.3,530.9 L1299.2,531.8 L1302.1,532.6 L1304.9,533.5 L1307.8,534.4 L1310.7,535.2 L1313.5,536.1 L1316.4,536.9 L1319.3,537.8 L1322.1,538.7 L1325.0,539.5 L1327.9,540.3 L1330.8,541.2 L1333.6,542.0 L1336.5,542.9 L1339.4,543.7 L1342.3,544.5 L1345.1,545.4 L1348.0,546.2 L1350.9,547.0 L1353.8,547.8 L1356.7,548.7 L1359.5,549.5 L1362.4,550.3 L1365.3,551.1 L1368.2,551.9 L1371.1,552.7 L1374.0,553.5 L1376.9,554.3 L1379.8,555.1 L1382.7,555.9 L1385.6,556.7 L1388.4,557.5 L1391.3,558.3 L1394.2,559.1 L1397.1,559.9 L1400.0,560.7 L1402.9,561.5 L1405.8,562.3 L1408.7,563.0 L1411.6,563.8 L1414.5,564.6 L1417.4,565.4 L1420.3,566.1 L1423.2,566.9 L1426.1,567.7 L1429.0,568.4 L1432.0,569.2 L1434.9,569.9 L1437.8,570.7 L1440.7,571.5 L1443.6,572.2 L1446.5,573.0 L1449.4,573.7 L1452.3,574.5 L1455.2,575.2 L1458.1,576.0 L1461.1,576.7 L1464.0,577.4 L1466.9,578.2 L1469.8,578.9 L1472.7,579.6 L1475.6,580.4 L1478.6,581.1 L1481.5,581.8 L1484.4,582.6 L1487.3,583.3 L1490.2,584.0 L1493.1,584.7 L1496.1,585.4 L1499.0,586.1 L1501.9,586.9 L1504.8,587.6 L1507.8,588.3 L1510.7,589.0 L1513.6,589.7 L1516.5,590.4 L1519.5,591.1 L1522.4,591.8 L1525.3,592.5 L1528.2,593.2 L1531.2,593.9 L1534.1,594.6 L1537.0,595.3 L1539.9,596.0 L1542.9,596.7 L1545.8,597.3 L1548.7,598.0 L1551.7,598.7 L1554.6,599.4 L1557.5,600.1 L1560.5,600.7 L1563.4,601.4 L1566.3,602.1 L1569.3,602.8 L1572.2,603.4 L1575.1,604.1 L1578.1,604.8 L1581.0,605.4 L1583.9,606.1 L1586.9,606.8 L1589.8,607.4 L1592.7,608.1 L1595.7,608.7 L1598.6,609.4 L1601.5,610.0 L1604.5,610.7 L1607.4,611.3 L1610.3,612.0 L1613.3,612.6 L1616.2,613.3 L1619.2,613.9 L1622.1,614.6 L1625.0,615.2 L1628.0,615.8 L1630.9,616.5 L1633.8,617.1 L1636.8,617.7 L1639.7,618.4 L1642.7,619.0 L1645.6,619.6 L1648.5,620.3 L1651.5,620.9 L1654.4,621.5 L1657.3,622.1 L1660.3,622.8 L1663.2,623.4 L1666.2,624.0 L1669.1,624.6 L1672.0,625.2 L1675.0,625.8 L1677.9,626.4 L1680.9,627.1 L1683.8,627.7 L1686.7,628.3 L1689.7,628.9 L1692.6,629.5 L1695.6,630.1 L1698.5,630.7 L1701.4,631.3 L1704.4,631.9 L1707.3,632.5 L1710.3,633.1 L1713.2,633.7 L1716.1,634.3 L1719.1,634.9 L1722.0,635.5 L1724.9,636.0 L1727.9,636.6 L1730.8,637.2 L1733.8,637.8 L1736.7,638.4 L1739.6,639.0 L1742.6,639.6 L1745.5,640.1 L1748.5,640.7 L1751.4,641.3 L1754.3,641.9 L1757.3,642.4 L1760.2,643.0 L1763.1,643.6 L1766.1,644.2 L1769.0,644.7 L1771.9,645.3 L1774.9,645.9 L1777.8,646.4 L1780.8,647.0 L1783.7,647.6 L1786.6,648.1 L1789.6,648.7 L1792.5,649.2 L1795.4,649.8 L1798.4,650.4 L1801.3,650.9 L1804.2,651.5 L1807.2,652.0 L1810.1,652.6 L1813.0,653.1 L1815.9,653.7 L1818.9,654.2 L1821.8,654.8 L1824.7,655.3 L1827.7,655.9 L1830.6,656.4 L1833.5,657.0 L1836.4,657.5 L1839.4,658.1 L1842.3,658.6 L1845.2,659.1 L1848.2,659.7 L1851.1,660.2 L1853.0,660.5" fill="none" stroke="#b5acd6" stroke-width="12.8" stroke-linejoin="round"/>
<path d="M176.0,685.5 L178.1,685.2 L180.2,684.8 L182.3,684.4 L184.3,683.9 L186.0,683.4 M207.0,658.7 L207.6,657.1 L208.3,655.2 L209.0,653.3 L209.7,651.4 L210.3,649.5 L211.0,647.7 L211.6,645.8 L212.1,643.9 L212.7,641.9 L213.2,640.0 L213.8,638.1 L214.3,636.2 L214.7,634.5 M220.2,602.8 L220.4,601.0 L220.6,599.1 L220.8,597.1 L221.0,595.1 L221.2,593.1 L221.3,591.1 L221.5,589.1 L221.7,587.1 L221.8,585.1 L221.9,583.1 L222.1,581.1 L222.2,579.1 L222.3,577.4 M223.7,544.8 L223.8,543.0 L223.9,541.0 L223.9,539.0 L224.0,537.0 L224.1,535.0 L224.2,533.0 L224.3,531.0 L224.4,529.0 L224.4,527.0 L224.5,525.0 L224.6,523.0 L224.7,520.9 L224.8,519.2 M226.3,484.6 L226.4,482.9 L226.5,480.9 L226.6,478.9 L226.7,476.9 L226.8,474.9 L226.9,472.9 L227.0,470.9 L227.1,468.9 L227.2,466.9 L227.3,464.9 L227.4,462.9 L227.5,461.1 M229.2,426.6 L229.3,424.9 L229.4,422.9 L229.4,420.9 L229.5,418.9 L229.6,416.9 L229.7,414.9 L229.8,412.9 L229.9,410.9 L230.0,408.9 L230.1,406.9 L230.2,404.9 L230.3,402.9 L230.4,401.2 M231.9,368.8 L232.0,367.0 L232.1,365.0 L232.2,363.0 L232.3,361.1 L232.3,359.1 L232.4,357.1 L232.5,355.1 L232.6,353.1 L232.7,351.1 L232.8,349.1 L232.9,347.1 L232.9,345.1 L233.0,343.1 L233.1,341.4 M234.2,311.0 L234.3,309.2 L234.4,307.2 L234.5,305.2 L234.5,303.3 L234.6,301.3 L234.7,299.3 L234.7,297.3 L234.8,295.3 L234.9,293.3 L234.9,291.3 L235.0,289.3 L235.1,287.3 L235.1,285.3 L235.2,283.6 M236.2,251.1 L236.2,249.4 L236.3,247.4 L236.3,245.4 L236.4,243.4 L236.5,241.4 L236.5,239.4 L236.6,237.4 L236.6,235.4 L236.7,233.4 L236.8,231.4 L236.8,229.4 L236.9,227.4 L236.9,225.4 L237.0,223.6 M237.9,193.1 L237.9,191.3 L238.0,189.3 L238.0,187.3 L238.1,185.3 L238.1,183.2 L238.2,181.2 L238.3,179.2 L238.3,177.2 L238.4,175.2 L238.4,173.2 L238.5,171.2 L238.6,169.2 L238.6,167.1 L238.7,165.4 M239.6,134.6 L239.7,132.8 L239.8,130.8 L239.8,128.7 L239.9,126.7 L240.0,124.7 L240.1,122.7 L240.2,120.7 L240.3,118.6 L240.4,116.6 L240.5,114.6 L240.7,112.6 L240.8,110.6 L240.9,108.9 M246.3,77.8 L246.6,77.2 L247.1,76.2 L247.6,75.7 L248.1,75.6 L248.5,75.9 L248.9,76.7 L249.3,77.9 L249.7,79.4 L250.1,81.2 L250.4,83.3 L250.7,85.6 L251.0,88.1 L251.3,90.7 L251.6,93.3 L251.8,95.9 L251.9,96.3 M254.5,128.2 L254.6,129.8 L254.8,131.7 L254.9,133.6 L255.1,135.6 L255.2,137.5 L255.4,139.4 L255.5,141.4 L255.7,143.3 L255.8,145.3 L256.0,147.2 L256.2,149.2 L256.3,151.2 L256.5,153.1 L256.6,154.8 M258.9,186.9 L259.0,188.7 L259.2,190.6 L259.3,192.6 L259.4,194.6 L259.6,196.6 L259.7,198.6 L259.8,200.6 L259.9,202.6 L260.1,204.6 L260.2,206.5 L260.3,208.5 L260.4,210.5 L260.5,212.3 M262.4,246.7 L262.5,248.5 L262.6,250.5 L262.7,252.5 L262.8,254.5 L262.9,256.5 L263.0,258.5 L263.1,260.5 L263.2,262.5 L263.3,264.5 L263.4,266.5 L263.5,268.6 L263.6,270.3 M265.0,303.0 L265.1,304.7 L265.2,306.7 L265.2,308.8 L265.3,310.8 L265.4,312.8 L265.5,314.8 L265.6,316.8 L265.6,318.8 L265.7,320.8 L265.8,322.8 L265.9,324.8 L266.0,326.9 L266.0,328.6 M267.2,361.3 L267.3,363.0 L267.3,365.1 L267.4,367.1 L267.5,369.1 L267.5,371.1 L267.6,373.1 L267.7,375.1 L267.8,377.1 L267.8,379.1 L267.9,381.1 L268.0,383.1 L268.0,385.1 L268.1,386.9 M269.7,421.4 L269.8,423.1 L269.9,425.1 L270.0,427.1 L270.1,429.1 L270.2,431.1 L270.4,433.1 L270.5,435.1 L270.6,437.0 L270.8,439.0 L270.9,441.0 L271.1,443.0 L271.2,444.7 M274.5,478.9 L274.7,480.6 L274.9,482.5 L275.2,484.5 L275.4,486.4 L275.7,488.4 L276.0,490.4 L276.3,492.3 L276.5,494.3 L276.8,496.3 L277.1,498.2 L277.4,500.2 L277.7,502.1 L278.0,503.8 M284.0,537.3 L284.3,539.0 L284.7,540.9 L285.2,542.8 L285.6,544.8 L286.0,546.7 L286.5,548.6 L286.9,550.5 L287.4,552.5 L287.9,554.4 L288.4,556.3 L289.0,558.2 L289.6,560.1 L290.1,561.8 M303.1,592.1 L304.1,593.8 L305.1,595.6 L306.2,597.3 L307.2,599.1 L308.3,600.9 L309.5,602.6 L310.6,604.3 L311.8,606.0 L312.9,607.7 L314.1,609.4 L315.4,611.1 L316.5,612.6 M337.7,635.0 L339.1,636.2 L340.6,637.4 L342.2,638.6 L343.8,639.8 L345.3,641.0 L347.0,642.1 L348.6,643.3 L350.2,644.3 L351.9,645.4 L353.5,646.4 L355.2,647.4 L356.9,648.3 L358.6,649.2 L360.0,650.0 M389.6,661.3 L391.3,661.9 L393.2,662.6 L395.1,663.3 L397.0,664.0 L398.9,664.6 L400.9,665.3 L402.8,665.9 L404.8,666.6 L406.7,667.2 L408.7,667.7 L410.6,668.3 L412.6,668.8 L414.3,669.2 M442.7,671.8 L444.5,671.8 L446.5,671.9 L448.5,671.9 L450.5,672.0 L452.5,672.0 L454.5,672.0 L456.5,672.1 L458.5,672.1 L460.5,672.2 L462.5,672.2 L464.5,672.2 L466.5,672.3 L468.5,672.3 L470.5,672.3 L472.3,672.4 M500.8,672.9 L502.6,672.9 L504.6,672.9 L506.6,673.0 L508.6,673.0 L510.6,673.0 L512.6,673.1 L514.6,673.1 L516.6,673.1 L518.6,673.1 L520.6,673.2 L522.6,673.2 L524.6,673.2 L526.6,673.3 L528.6,673.3 L530.3,673.3 M560.9,673.7 L562.6,673.7 L564.6,673.8 L566.6,673.8 L568.6,673.8 L570.6,673.8 L572.6,673.9 L574.6,673.9 L576.6,673.9 L578.6,673.9 L580.7,674.0 L582.7,674.0 L584.7,674.0 L586.7,674.0 L588.4,674.0 M618.9,674.4 L620.7,674.4 L622.7,674.4 L624.7,674.4 L626.7,674.4 L628.7,674.5 L630.7,674.5 L632.7,674.5 L634.7,674.5 L636.7,674.5 L638.7,674.5 L640.7,674.6 L642.7,674.6 L644.7,674.6 L646.5,674.6 M677.0,674.9 L678.7,674.9 L680.7,674.9 L682.7,674.9 L684.7,674.9 L686.7,674.9 L688.7,674.9 L690.7,675.0 L692.7,675.0 L694.7,675.0 L696.7,675.0 L698.7,675.0 L700.7,675.0 L702.7,675.0 L704.7,675.1 L706.5,675.1 M735.0,675.3 L736.7,675.3 L738.7,675.3 L740.7,675.3 L742.7,675.3 L744.7,675.3 L746.7,675.3 L748.7,675.3 L750.7,675.4 L752.7,675.4 L754.7,675.4 L756.7,675.4 L758.7,675.4 L760.8,675.4 L762.8,675.4 L764.5,675.4 M795.0,675.6 L796.8,675.6 L798.8,675.6 L800.8,675.7 L802.8,675.7 L804.8,675.7 L806.8,675.7 L808.8,675.7 L810.8,675.7 L812.8,675.7 L814.8,675.7 L816.8,675.8 L818.8,675.8 L820.8,675.8 L822.5,675.8 M853.0,676.0 L854.8,676.0 L856.8,676.0 L858.7,676.0 L860.7,676.0 L862.7,676.0 L864.7,676.0 L866.7,676.1 L868.7,676.1 L870.7,676.1 L872.7,676.1 L874.7,676.1 L876.7,676.1 L878.7,676.1 L880.5,676.1 M911.0,676.3 L912.7,676.3 L914.7,676.4 L916.7,676.4 L918.7,676.4 L920.7,676.4 L922.7,676.4 L924.7,676.4 L926.7,676.4 L928.7,676.4 L930.7,676.5 L932.7,676.5 L934.7,676.5 L936.7,676.5 L938.7,676.5 L940.5,676.5 M969.0,676.7 L970.7,676.7 L972.7,676.7 L974.7,676.7 L976.7,676.7 L978.7,676.8 L980.7,676.8 L982.7,676.8 L984.7,676.8 L986.7,676.8 L988.7,676.8 L990.7,676.8 L992.7,676.8 L994.7,676.9 L996.7,676.9 L998.5,676.9 M1028.9,677.1 L1030.7,677.1 L1032.7,677.1 L1034.7,677.1 L1036.7,677.1 L1038.7,677.1 L1040.7,677.1 L1042.7,677.2 L1044.7,677.2 L1046.7,677.2 L1048.7,677.2 L1050.7,677.2 L1052.7,677.2 L1054.7,677.2 L1056.4,677.2 M1086.9,677.4 L1088.7,677.4 L1090.7,677.5 L1092.7,677.5 L1094.7,677.5 L1096.7,677.5 L1098.6,677.5 L1100.6,677.5 L1102.6,677.5 L1104.6,677.6 L1106.6,677.6 L1108.6,677.6 L1110.6,677.6 L1112.6,677.6 L1114.4,677.6 M1144.9,677.8 L1146.6,677.8 L1148.6,677.8 L1150.6,677.8 L1152.6,677.9 L1154.6,677.9 L1156.6,677.9 L1158.6,677.9 L1160.6,677.9 L1162.6,677.9 L1164.6,677.9 L1166.6,678.0 L1168.6,678.0 L1170.6,678.0 L1172.6,678.0 L1174.4,678.0 M1202.8,678.2 L1204.6,678.2 L1206.6,678.2 L1208.6,678.2 L1210.6,678.2 L1212.6,678.3 L1214.6,678.3 L1216.6,678.3 L1218.6,678.3 L1220.6,678.3 L1222.6,678.3 L1224.6,678.3 L1226.6,678.3 L1228.6,678.4 L1230.6,678.4 L1232.3,678.4 M1262.8,678.6 L1264.5,678.6 L1266.5,678.6 L1268.5,678.6 L1270.5,678.6 L1272.5,678.6 L1274.5,678.7 L1276.5,678.7 L1278.5,678.7 L1280.5,678.7 L1282.5,678.7 L1284.5,678.7 L1286.5,678.7 L1288.5,678.8 L1290.3,678.8 M1320.8,679.0 L1322.5,679.0 L1324.5,679.0 L1326.5,679.0 L1328.5,679.0 L1330.5,679.0 L1332.5,679.0 L1334.5,679.1 L1336.5,679.1 L1338.5,679.1 L1340.5,679.1 L1342.5,679.1 L1344.5,679.1 L1346.5,679.1 L1348.2,679.2 M1378.7,679.4 L1380.5,679.4 L1382.5,679.4 L1384.5,679.4 L1386.5,679.4 L1388.5,679.4 L1390.5,679.4 L1392.5,679.4 L1394.5,679.5 L1396.5,679.5 L1398.5,679.5 L1400.5,679.5 L1402.5,679.5 L1404.5,679.5 L1406.5,679.5 L1408.2,679.6 M1436.7,679.7 L1438.5,679.8 L1440.5,679.8 L1442.5,679.8 L1444.5,679.8 L1446.5,679.8 L1448.5,679.8 L1450.5,679.8 L1452.5,679.9 L1454.5,679.9 L1456.5,679.9 L1458.5,679.9 L1460.5,679.9 L1462.5,679.9 L1464.5,679.9 L1466.2,679.9 M1496.7,680.2 L1498.4,680.2 L1500.4,680.2 L1502.4,680.2 L1504.4,680.2 L1506.4,680.2 L1508.4,680.2 L1510.4,680.2 L1512.4,680.3 L1514.4,680.3 L1516.4,680.3 L1518.4,680.3 L1520.4,680.3 L1522.4,680.3 L1524.2,680.3 M1554.7,680.6 L1556.4,680.6 L1558.4,680.6 L1560.4,680.6 L1562.4,680.6 L1564.4,680.6 L1566.4,680.6 L1568.4,680.6 L1570.4,680.7 L1572.4,680.7 L1574.4,680.7 L1576.4,680.7 L1578.4,680.7 L1580.4,680.7 L1582.2,680.7 M1612.7,680.9 L1614.4,681.0 L1616.4,681.0 L1618.4,681.0 L1620.4,681.0 L1622.4,681.0 L1624.4,681.0 L1626.4,681.0 L1628.4,681.1 L1630.4,681.1 L1632.4,681.1 L1634.4,681.1 L1636.4,681.1 L1638.4,681.1 L1640.2,681.1 M1670.7,681.3 L1672.5,681.4 L1674.5,681.4 L1676.5,681.4 L1678.5,681.4 L1680.5,681.4 L1682.5,681.4 L1684.5,681.4 L1686.5,681.5 L1688.5,681.5 L1690.5,681.5 L1692.5,681.5 L1694.5,681.5 L1696.5,681.5 L1698.5,681.5 L1700.2,681.6 M1728.7,681.7 L1730.5,681.8 L1732.5,681.8 L1734.5,681.8 L1736.5,681.8 L1738.5,681.8 L1740.5,681.8 L1742.5,681.8 L1744.5,681.9 L1746.5,681.9 L1748.5,681.9 L1750.5,681.9 L1752.5,681.9 L1754.5,681.9 L1756.5,681.9 L1758.3,682.0 M1788.8,682.2 L1790.5,682.2 L1792.5,682.2 L1794.5,682.2 L1796.5,682.2 L1798.5,682.2 L1800.5,682.2 L1802.5,682.3 L1804.5,682.3 L1806.5,682.3 L1808.6,682.3 L1810.6,682.3 L1812.6,682.3 L1814.6,682.3 L1816.3,682.4 M1846.8,682.6 L1848.6,682.6 L1850.0,682.6" fill="none" stroke="#c4bce0" stroke-width="4.5" stroke-linecap="round" stroke-linejoin="round"/>
<circle cx="160" cy="690" r="2.3" fill="#c4bce0"/>
<!-- legend -->
<text x="1462.68" y="111.9" font-size="28.6" fill="#fff" textLength="47.90" lengthAdjust="spacingAndGlyphs">First</text>
<text x="1517.50" y="111.9" font-size="28.6" fill="#fff" textLength="63.21" lengthAdjust="spacingAndGlyphs">Stars:</text>
<text x="1584.49" y="111.9" font-size="28.6" fill="#fff" textLength="91.24" lengthAdjust="spacingAndGlyphs">Emitted</text>
<text x="1679.92" y="111.9" font-size="28.6" fill="#fff" textLength="60.39" lengthAdjust="spacingAndGlyphs">Light</text>
<text x="1426.07" y="180.7" font-size="28.2" fill="#fff" textLength="48.01" lengthAdjust="spacingAndGlyphs">First</text>
<text x="1480.90" y="180.7" font-size="28.2" fill="#fff" textLength="63.31" lengthAdjust="spacingAndGlyphs">Stars:</text>
<text x="1547.86" y="180.7" font-size="28.2" fill="#fff" textLength="124.82" lengthAdjust="spacingAndGlyphs">Redshifted</text>
<text x="1676.81" y="180.7" font-size="28.2" fill="#fff" textLength="60.49" lengthAdjust="spacingAndGlyphs">Light</text>
<circle cx="1788.9" cy="102.6" r="30.4" fill="none" stroke="#b9b0da" stroke-width="4.8" stroke-dasharray="9.2 6.72" stroke-dashoffset="-3.36"/>
<circle cx="1789" cy="177.2" r="31.1" fill="#b5acd6"/>
<g transform="translate(128.8,469) rotate(-90)">
<text x="-1.88" y="0" font-size="22.2" fill="#fff" textLength="83.01" lengthAdjust="spacingAndGlyphs">Relative</text>
<text x="88.70" y="0" font-size="22.2" fill="#fff" textLength="88.64" lengthAdjust="spacingAndGlyphs">Intensity</text>
</g>
<!-- waves -->
<g fill="none" stroke-width="4.4">
<rect x="164" y="771.3" width="37" height="54.6" fill="url(#guv)"/>
<path d="M199.00,773.70 L199.28,774.92 L199.56,778.46 L199.84,783.96 L200.12,790.91 L200.40,798.60 L200.68,806.29 L200.96,813.24 L201.24,818.74 L201.52,822.28 L201.80,823.50 L202.08,822.28 L202.36,818.74 L202.64,813.24 L202.92,806.29 L203.20,798.60 L203.48,790.91 L203.76,783.96 L204.04,778.46 L204.32,774.92 L204.60,773.70 L204.89,774.92 L205.18,778.46 L205.47,783.96 L205.76,790.91 L206.05,798.60 L206.34,806.29 L206.63,813.24 L206.92,818.74 L207.21,822.28 L207.50,823.50 L207.79,822.28 L208.08,818.74 L208.37,813.24 L208.66,806.29 L208.95,798.60 L209.24,790.91 L209.53,783.96 L209.82,778.46 L210.11,774.92 L210.40,773.70 L210.70,774.92 L211.00,778.46 L211.30,783.96 L211.60,790.91 L211.90,798.60 L212.20,806.29 L212.50,813.24 L212.80,818.74 L213.10,822.28 L213.40,823.50 L213.70,822.28 L214.00,818.74 L214.30,813.24 L214.60,806.29 L214.90,798.60 L215.20,790.91 L215.50,783.96 L215.80,778.46 L216.10,774.92 L216.40,773.70 L216.73,774.92 L217.06,778.46 L217.39,783.96 L217.72,790.91 L218.05,798.60 L218.38,806.29 L218.71,813.24 L219.04,818.74 L219.37,822.28 L219.70,823.50 L220.03,822.28 L220.36,818.74 L220.69,813.24 L221.02,806.29 L221.35,798.60 L221.68,790.91 L222.01,783.96 L222.34,778.46 L222.67,774.92 L223.00,773.70 L223.36,774.92 L223.72,778.46 L224.08,783.96 L224.44,790.91 L224.80,798.60 L225.16,806.29 L225.52,813.24 L225.88,818.74 L226.24,822.28 L226.60,823.50 L226.97,822.28 L227.34,818.74 L227.71,813.24 L228.08,806.29 L228.45,798.60 L228.82,790.91 L229.19,783.96 L229.56,778.46 L229.93,774.92 L230.30,773.70 L230.69,774.92 L231.08,778.46 L231.47,783.96 L231.86,790.91 L232.25,798.60 L232.64,806.29 L233.03,813.24 L233.42,818.74 L233.81,822.28 L234.20,823.50 L234.59,822.28 L234.98,818.74 L235.37,813.24 L235.76,806.29 L236.15,798.60 L236.54,790.91 L236.93,783.96 L237.32,778.46 L237.71,774.92 L238.10,773.70 L238.55,774.92 L239.00,778.46 L239.45,783.96 L239.90,790.91 L240.35,798.60 L240.80,806.29 L241.25,813.24 L241.70,818.74 L242.15,822.28 L242.60,823.50" stroke="url(#guv)" stroke-width="4.8" stroke-linejoin="round"/>
<path d="M431.50,822.50 L432.24,822.04 L432.99,820.69 L433.73,818.49 L434.48,815.53 L435.22,811.92 L435.96,807.81 L436.71,803.34 L437.45,798.70 L438.19,794.06 L438.94,789.59 L439.68,785.48 L440.42,781.87 L441.17,778.91 L441.91,776.71 L442.66,775.36 L443.40,774.90 L444.14,775.36 L444.89,776.71 L445.63,778.91 L446.38,781.87 L447.12,785.48 L447.86,789.59 L448.61,794.06 L449.35,798.70 L450.09,803.34 L450.84,807.81 L451.58,811.92 L452.32,815.53 L453.07,818.49 L453.81,820.69 L454.56,822.04 L455.30,822.50 L456.12,822.04 L456.94,820.69 L457.76,818.49 L458.57,815.53 L459.39,811.92 L460.21,807.81 L461.03,803.34 L461.85,798.70 L462.67,794.06 L463.49,789.59 L464.31,785.48 L465.12,781.87 L465.94,778.91 L466.76,776.71 L467.58,775.36 L468.40,774.90 L469.19,775.36 L469.97,776.71 L470.76,778.91 L471.55,781.87 L472.34,785.48 L473.12,789.59 L473.91,794.06 L474.70,798.70 L475.49,803.34 L476.27,807.81 L477.06,811.92 L477.85,815.53 L478.64,818.49 L479.43,820.69 L480.21,822.04 L481.00,822.50 L481.81,822.04 L482.62,820.69 L483.44,818.49 L484.25,815.53 L485.06,811.92 L485.88,807.81 L486.69,803.34 L487.50,798.70 L488.31,794.06 L489.12,789.59 L489.94,785.48 L490.75,781.87 L491.56,778.91 L492.38,776.71 L493.19,775.36 L494.00,774.90 L494.78,775.36 L495.56,776.71 L496.34,778.91 L497.12,781.87 L497.91,785.48 L498.69,789.59 L499.47,794.06 L500.25,798.70 L501.03,803.34 L501.81,807.81 L502.59,811.92 L503.38,815.53 L504.16,818.49 L504.94,820.69 L505.72,822.04 L506.50,822.50 L507.36,822.04 L508.21,820.69 L509.07,818.49 L509.93,815.53 L510.78,811.92 L511.64,807.81 L512.49,803.34 L513.35,798.70 L514.21,794.06 L515.06,789.59 L515.92,785.48 L516.78,781.87 L517.63,778.91 L518.49,776.71 L519.34,775.36 L520.20,774.90 L521.06,775.36 L521.91,776.71 L522.77,778.91 L523.62,781.87 L524.48,785.48 L525.34,789.59 L526.19,794.06 L527.05,798.70 L527.91,803.34 L528.76,807.81 L529.62,811.92 L530.48,815.53 L531.33,818.49 L532.19,820.69 L533.04,822.04 L533.90,822.50 L534.86,822.04 L535.82,820.69 L536.79,818.49 L537.75,815.53 L538.71,811.92 L539.67,807.81 L540.64,803.34 L541.60,798.70 L542.56,794.06 L543.52,789.59 L544.49,785.48 L545.45,781.87 L546.41,778.91 L547.38,776.71 L548.34,775.36 L549.30,774.90 L550.23,775.36 L551.16,776.71 L552.09,778.91 L553.02,781.87 L553.96,785.48 L554.89,789.59 L555.82,794.06 L556.75,798.70 L557.68,803.34 L558.61,807.81 L559.54,811.92 L560.48,815.53 L561.41,818.49 L562.34,820.69 L563.27,822.04 L564.20,822.50 L565.24,822.04 L566.29,820.69 L567.33,818.49 L568.38,815.53 L569.42,811.92 L570.46,807.81 L571.51,803.34 L572.55,798.70 L573.59,794.06 L574.64,789.59 L575.68,785.48 L576.73,781.87 L577.77,778.91 L578.81,776.71 L579.86,775.36 L580.90,774.90 L581.94,775.36 L582.98,776.71 L584.01,778.91 L585.05,781.87 L586.09,785.48 L587.12,789.59 L588.16,794.06 L589.20,798.70 L590.24,803.34 L591.27,807.81 L592.31,811.92 L593.35,815.53 L594.39,818.49 L595.42,820.69 L596.46,822.04 L597.50,822.50 L598.62,822.04 L599.74,820.69 L600.86,818.49 L601.98,815.53 L603.09,811.92 L604.21,807.81 L605.33,803.34 L606.45,798.70 L607.57,794.06 L608.69,789.59 L609.81,785.48 L610.92,781.87 L612.04,778.91 L613.16,776.71 L614.28,775.36 L615.40,774.90 L616.55,775.36 L617.70,776.71 L618.85,778.91 L620.00,781.87 L621.15,785.48 L622.30,789.59 L623.45,794.06 L624.60,798.70 L625.75,803.34 L626.90,807.81 L628.05,811.92 L629.20,815.53 L630.35,818.49 L631.50,820.69 L632.65,822.04 L633.80,822.50 L635.06,822.04 L636.32,820.69 L637.59,818.49 L638.85,815.53 L640.11,811.92 L641.38,807.81 L642.64,803.34 L643.90,798.70 L645.16,794.06 L646.42,789.59 L647.69,785.48 L648.95,781.87 L650.21,778.91 L651.48,776.71 L652.74,775.36 L654.00,774.90 L655.24,775.36 L656.48,776.71 L657.71,778.91 L658.95,781.87 L660.19,785.48 L661.42,789.59 L662.66,794.06 L663.90,798.70 L665.14,803.34 L666.38,807.81 L667.61,811.92 L668.85,815.53 L670.09,818.49 L671.32,820.69 L672.56,822.04 L673.80,822.50 L675.25,822.04 L676.70,820.69 L678.15,818.49 L679.60,815.53 L681.05,811.92 L682.50,807.81 L683.95,803.34 L685.40,798.70 L686.85,794.06 L688.30,789.59 L689.75,785.48 L691.20,781.87 L692.65,778.91 L694.10,776.71 L695.55,775.36 L697.00,774.90 L698.46,775.36 L699.91,776.71 L701.37,778.91 L702.83,781.87 L704.28,785.48 L705.74,789.59 L707.19,794.06 L708.65,798.70 L710.11,803.34 L711.56,807.81 L713.02,811.92 L714.47,815.53 L715.93,818.49 L717.39,820.69 L718.84,822.04 L720.30,822.50 L722.07,822.04 L723.84,820.69 L725.61,818.49 L727.38,815.53 L729.14,811.92 L730.91,807.81 L732.68,803.34 L734.45,798.70 L736.22,794.06 L737.99,789.59 L739.76,785.48 L741.52,781.87 L743.29,778.91 L745.06,776.71 L746.83,775.36 L748.60,774.90 L750.33,775.36 L752.06,776.71 L753.79,778.91 L755.52,781.87 L757.26,785.48 L758.99,789.59 L760.72,794.06 L762.45,798.70 L764.18,803.34 L765.91,807.81 L767.64,811.92 L769.38,815.53 L771.11,818.49 L772.84,820.69 L774.57,822.04 L776.30,822.50 L778.36,822.04 L780.41,820.69 L782.47,818.49 L784.52,815.53 L786.58,811.92 L788.64,807.81 L790.69,803.34 L792.75,798.70 L794.81,794.06 L796.86,789.59 L798.92,785.48 L800.98,781.87 L803.03,778.91 L805.09,776.71 L807.14,775.36 L809.20,774.90 L811.25,775.36 L813.30,776.71 L815.35,778.91 L817.40,781.87 L819.45,785.48 L821.50,789.59 L823.55,794.06 L825.60,798.70 L827.65,803.34 L829.70,807.81 L831.75,811.92 L833.80,815.53 L835.85,818.49 L837.90,820.69 L839.95,822.04 L842.00,822.50 L844.34,822.04 L846.67,820.69 L849.01,818.49 L851.35,815.53 L853.69,811.92 L856.02,807.81 L858.36,803.34 L860.70,798.70 L863.04,794.06 L865.38,789.59 L867.71,785.48 L870.05,781.87 L872.39,778.91 L874.73,776.71 L877.06,775.36 L879.40,774.90 L881.26,775.36 L883.12,776.71 L884.99,778.91 L886.85,781.87 L888.71,785.48 L890.57,789.59 L892.44,794.06 L894.30,798.70" stroke="url(#gw1)"/>
<path d="M1051.40,784.73 L1052.21,784.68 L1053.02,784.54 L1053.83,784.31 L1054.63,783.99 L1055.44,783.59 L1056.25,783.11 L1057.06,782.57 L1057.87,781.97 L1058.67,781.32 L1059.48,780.64 L1060.29,779.93 L1061.10,779.21 L1061.91,778.49 L1062.72,777.79 L1063.53,777.10 L1064.33,776.46 L1065.14,775.86 L1065.95,775.31 L1066.76,774.84 L1067.57,774.44 L1068.38,774.12 L1069.18,773.89 L1069.99,773.75 L1070.80,773.70 L1073.17,773.80 L1075.55,774.13 L1077.92,774.72 L1080.30,775.63 L1082.67,776.92 L1085.05,778.66 L1087.42,780.89 L1089.80,783.60 L1092.17,786.78 L1094.55,790.35 L1096.92,794.20 L1099.30,798.20 L1101.67,802.20 L1104.05,806.05 L1106.42,809.62 L1108.80,812.80 L1111.17,815.51 L1113.55,817.74 L1115.92,819.48 L1118.30,820.77 L1120.67,821.68 L1123.05,822.27 L1125.42,822.60 L1127.80,822.70 L1130.89,822.60 L1133.97,822.27 L1137.06,821.68 L1140.15,820.77 L1143.24,819.48 L1146.33,817.74 L1149.41,815.51 L1152.50,812.80 L1155.59,809.62 L1158.67,806.05 L1161.76,802.20 L1164.85,798.20 L1167.94,794.20 L1171.03,790.35 L1174.11,786.78 L1177.20,783.60 L1180.29,780.89 L1183.38,778.66 L1186.46,776.92 L1189.55,775.63 L1192.64,774.72 L1195.73,774.13 L1198.81,773.80 L1201.90,773.70 L1204.90,773.80 L1207.89,774.13 L1210.89,774.72 L1213.88,775.63 L1216.88,776.92 L1219.88,778.66 L1222.87,780.89 L1225.87,783.60 L1228.86,786.78 L1231.86,790.35 L1234.85,794.20 L1237.85,798.20 L1240.85,802.20 L1243.84,806.05 L1246.84,809.62 L1249.83,812.80 L1252.83,815.51 L1255.83,817.74 L1258.82,819.48 L1261.82,820.77 L1264.81,821.68 L1267.81,822.27 L1270.80,822.60 L1273.80,822.70 L1277.70,822.60 L1281.59,822.27 L1285.49,821.68 L1289.38,820.77 L1293.28,819.48 L1297.17,817.74 L1301.07,815.51 L1304.97,812.80 L1308.86,809.62 L1312.76,806.05 L1316.65,802.20 L1320.55,798.20 L1324.45,794.20 L1328.34,790.35 L1332.24,786.78 L1336.13,783.60 L1340.03,780.89 L1343.92,778.66 L1347.82,776.92 L1351.72,775.63 L1355.61,774.72 L1359.51,774.13 L1363.40,773.80 L1367.30,773.70 L1371.24,773.80 L1375.18,774.13 L1379.12,774.72 L1383.07,775.63 L1387.01,776.92 L1390.95,778.66 L1394.89,780.89 L1398.83,783.60 L1402.78,786.78 L1406.72,790.35 L1410.66,794.20 L1414.60,798.20 L1418.54,802.20 L1422.48,806.05 L1426.42,809.62 L1430.37,812.80 L1434.31,815.51 L1438.25,817.74 L1442.19,819.48 L1446.13,820.77 L1450.08,821.68 L1454.02,822.27 L1457.96,822.60 L1461.90,822.70 L1462.85,822.69 L1463.80,822.66 L1464.75,822.61 L1465.70,822.54 L1466.65,822.45 L1467.60,822.34 L1468.55,822.22 L1469.50,822.09 L1470.45,821.94 L1471.40,821.79 L1472.35,821.63 L1473.30,821.48 L1474.25,821.32 L1475.20,821.16 L1476.15,821.01 L1477.10,820.86 L1478.05,820.73 L1479.00,820.61 L1479.95,820.50 L1480.90,820.41 L1481.85,820.34 L1482.80,820.29 L1483.75,820.26 L1484.70,820.25" stroke="url(#gw2)"/>
<path d="M1645.00,807.60 L1648.08,809.61 L1651.17,811.59 L1654.25,813.49 L1657.33,815.30 L1660.42,816.97 L1663.50,818.49 L1666.58,819.82 L1669.67,820.94 L1672.75,821.83 L1675.83,822.48 L1678.92,822.87 L1682.00,823.00 L1686.17,822.96 L1690.35,822.85 L1694.53,822.65 L1698.70,822.36 L1702.88,821.97 L1707.05,821.46 L1711.22,820.82 L1715.40,820.04 L1719.58,819.10 L1723.75,817.99 L1727.92,816.70 L1732.10,815.23 L1736.28,813.58 L1740.45,811.76 L1744.62,809.79 L1748.80,807.66 L1752.97,805.42 L1757.15,803.09 L1761.33,800.68 L1765.50,798.25 L1769.67,795.82 L1773.85,793.41 L1778.03,791.08 L1782.20,788.84 L1786.38,786.71 L1790.55,784.74 L1794.72,782.92 L1798.90,781.27 L1803.08,779.80 L1807.25,778.51 L1811.42,777.40 L1815.60,776.46 L1819.78,775.68 L1823.95,775.04 L1828.12,774.53 L1832.30,774.14 L1836.47,773.85 L1840.65,773.65 L1844.83,773.54 L1849.00,773.50" stroke="url(#gw3)"/>
</g>
<text x="244.35" y="804" font-size="26.6" fill="#fff" textLength="118.35" lengthAdjust="spacingAndGlyphs">Ultraviolet</text>
<text x="365.57" y="804" font-size="26.6" fill="#fff" textLength="61.54" lengthAdjust="spacingAndGlyphs">Light</text>
<text x="903.88" y="807.8" font-size="27.2" fill="#fff" textLength="78.20" lengthAdjust="spacingAndGlyphs">Visible</text>
<text x="987.52" y="807.8" font-size="27.2" fill="#fff" textLength="62.79" lengthAdjust="spacingAndGlyphs">Light</text>
<text x="1491.40" y="807.8" font-size="26.4" fill="#fff" textLength="89.68" lengthAdjust="spacingAndGlyphs">Infrared</text>
<text x="1586.89" y="807.8" font-size="26.4" fill="#fff" textLength="58.41" lengthAdjust="spacingAndGlyphs">Light</text>
<text x="170.03" y="949.4" font-size="72.6" font-weight="bold" stroke="#fff" stroke-width="1.4" stroke-linejoin="round" fill="#fff" textLength="200.17" lengthAdjust="spacingAndGlyphs">WAVE</text>
<text x="389.73" y="949.4" font-size="72.6" font-weight="bold" stroke="#fff" stroke-width="1.4" stroke-linejoin="round" fill="#fff" textLength="310.49" lengthAdjust="spacingAndGlyphs">LENGTH:</text>
<text x="732.50" y="949.4" font-size="72.6" font-weight="bold" stroke="#fff" stroke-width="1.4" stroke-linejoin="round" fill="#fff" textLength="438.88" lengthAdjust="spacingAndGlyphs">REDSHIFTED</text>
<text x="1187.24" y="949.4" font-size="72.6" font-weight="bold" stroke="#fff" stroke-width="1.4" stroke-linejoin="round" fill="#fff" textLength="89.48" lengthAdjust="spacingAndGlyphs">VS</text>
<text x="1294.66" y="949.4" font-size="72.6" font-weight="bold" stroke="#fff" stroke-width="1.4" stroke-linejoin="round" fill="#fff" textLength="311.12" lengthAdjust="spacingAndGlyphs">EMITTED</text>
<text x="1625.31" y="949.4" font-size="72.6" font-weight="bold" stroke="#fff" stroke-width="1.4" stroke-linejoin="round" fill="#fff" textLength="214.96" lengthAdjust="spacingAndGlyphs">LIGHT</text>
<text x="170.21" y="1053.7" font-size="72.6" font-weight="bold" stroke="#fff" stroke-width="1.4" stroke-linejoin="round" fill="#fff" textLength="206.48" lengthAdjust="spacingAndGlyphs">FROM</text>
<text x="392.21" y="1053.7" font-size="72.6" font-weight="bold" stroke="#fff" stroke-width="1.4" stroke-linejoin="round" fill="#fff" textLength="140.74" lengthAdjust="spacingAndGlyphs">THE</text>
<text x="551.72" y="1053.7" font-size="72.6" font-weight="bold" stroke="#7a6aa5" stroke-width="1.4" stroke-linejoin="round" fill="#7a6aa5" textLength="193.50" lengthAdjust="spacingAndGlyphs">FIRST</text>
<text x="763.46" y="1053.7" font-size="72.6" font-weight="bold" stroke="#7a6aa5" stroke-width="1.4" stroke-linejoin="round" fill="#7a6aa5" textLength="216.64" lengthAdjust="spacingAndGlyphs">STARS</text>
<rect x="0" y="1110" width="2017" height="1" fill="#a8a4b0"/>
</svg>
</body></html>
